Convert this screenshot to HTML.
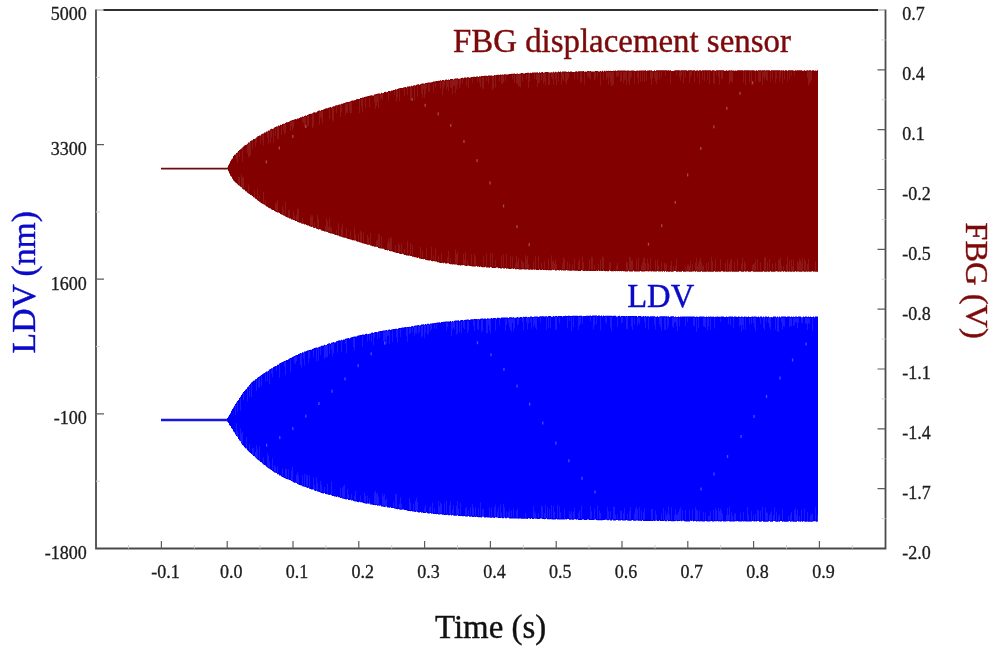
<!DOCTYPE html>
<html lang="en"><head><meta charset="utf-8"><title>FBG displacement sensor vs LDV</title>
<style>
html,body{margin:0;padding:0;background:#fff;}
body{width:1000px;height:647px;overflow:hidden;font-family:"Liberation Serif","Times New Roman",serif;}
svg{display:block;}
</style></head><body>
<svg width="1000" height="647" viewBox="0 0 1000 647">
<rect width="1000" height="647" fill="#fff"/>
<g id="fbg">
<path d="M161 168.7 H227.5" stroke="#6e0c0c" stroke-width="1.8" fill="none"/>
<path d="M227.0 167.5 L228.0 167.5 L228.0 165.3 L229.0 165.3 L229.0 163.4 L230.0 163.4 L230.0 161.2 L231.0 161.2 L231.0 159.5 L232.0 159.5 L232.0 158.4 L233.0 158.4 L233.0 156.1 L234.0 156.1 L234.0 154.8 L235.0 154.8 L235.0 154.5 L236.0 154.5 L236.0 152.9 L237.0 152.9 L237.0 152.6 L238.0 152.6 L238.0 151.0 L239.0 151.0 L239.0 150.1 L240.0 150.1 L240.0 149.2 L241.0 149.2 L241.0 148.5 L242.0 148.5 L242.0 147.6 L243.0 147.6 L243.0 146.4 L244.0 146.4 L244.0 145.6 L245.0 145.6 L245.0 144.9 L246.0 144.9 L246.0 144.7 L247.0 144.7 L247.0 143.7 L248.0 143.7 L248.0 142.6 L249.0 142.6 L249.0 142.5 L250.0 142.5 L250.0 141.1 L251.0 141.1 L251.0 140.4 L252.0 140.4 L252.0 140.2 L253.0 140.2 L253.0 139.0 L254.0 139.0 L254.0 139.0 L255.0 139.0 L255.0 138.4 L256.0 138.4 L256.0 137.5 L257.0 137.5 L257.0 136.6 L258.0 136.6 L258.0 136.0 L259.0 136.0 L259.0 135.4 L260.0 135.4 L260.0 135.4 L261.0 135.4 L261.0 134.2 L262.0 134.2 L262.0 133.7 L263.0 133.7 L263.0 133.4 L264.0 133.4 L264.0 132.6 L265.0 132.6 L265.0 132.6 L266.0 132.6 L266.0 131.5 L267.0 131.5 L267.0 131.5 L268.0 131.5 L268.0 130.4 L269.0 130.4 L269.0 130.4 L270.0 130.4 L270.0 129.3 L271.0 129.3 L271.0 128.8 L272.0 128.8 L272.0 128.9 L273.0 128.9 L273.0 128.5 L274.0 128.5 L274.0 127.4 L275.0 127.4 L275.0 126.9 L276.0 126.9 L276.0 126.5 L277.0 126.5 L277.0 126.6 L278.0 126.6 L278.0 125.6 L279.0 125.6 L279.0 125.7 L280.0 125.7 L280.0 124.7 L281.0 124.7 L281.0 124.9 L282.0 124.9 L282.0 123.9 L283.0 123.9 L283.0 123.8 L284.0 123.8 L284.0 123.7 L285.0 123.7 L285.0 123.0 L286.0 123.0 L286.0 122.3 L287.0 122.3 L287.0 122.2 L288.0 122.2 L288.0 122.1 L289.0 122.1 L289.0 121.4 L290.0 121.4 L290.0 120.8 L291.0 120.8 L291.0 120.4 L292.0 120.4 L292.0 120.1 L293.0 120.1 L293.0 119.7 L294.0 119.7 L294.0 119.4 L295.0 119.4 L295.0 119.0 L296.0 119.0 L296.0 119.3 L297.0 119.3 L297.0 118.4 L298.0 118.4 L298.0 118.6 L299.0 118.6 L299.0 118.0 L300.0 118.0 L300.0 117.3 L301.0 117.3 L301.0 117.3 L302.0 117.3 L302.0 116.6 L303.0 116.6 L303.0 116.8 L304.0 116.8 L304.0 115.9 L305.0 115.9 L305.0 115.5 L306.0 115.5 L306.0 115.8 L307.0 115.8 L307.0 115.1 L308.0 115.1 L308.0 114.4 L309.0 114.4 L309.0 114.1 L310.0 114.1 L310.0 113.7 L311.0 113.7 L311.0 113.7 L312.0 113.7 L312.0 113.3 L313.0 113.3 L313.0 112.6 L314.0 112.6 L314.0 112.3 L315.0 112.3 L315.0 112.5 L316.0 112.5 L316.0 112.2 L317.0 112.2 L317.0 111.2 L318.0 111.2 L318.0 110.8 L319.0 110.8 L319.0 110.5 L320.0 110.5 L320.0 110.7 L321.0 110.7 L321.0 110.1 L322.0 110.1 L322.0 110.1 L323.0 110.1 L323.0 109.5 L324.0 109.5 L324.0 108.9 L325.0 108.9 L325.0 108.6 L326.0 108.6 L326.0 108.3 L327.0 108.3 L327.0 108.3 L328.0 108.3 L328.0 107.7 L329.0 107.7 L329.0 107.4 L330.0 107.4 L330.0 107.1 L331.0 107.1 L331.0 107.4 L332.0 107.4 L332.0 106.8 L333.0 106.8 L333.0 106.2 L334.0 106.2 L334.0 106.2 L335.0 106.2 L335.0 105.6 L336.0 105.6 L336.0 105.3 L337.0 105.3 L337.0 105.3 L338.0 105.3 L338.0 104.7 L339.0 104.7 L339.0 104.4 L340.0 104.4 L340.0 104.6 L341.0 104.6 L341.0 103.8 L342.0 103.8 L342.0 103.8 L343.0 103.8 L343.0 103.2 L344.0 103.2 L344.0 102.9 L345.0 102.9 L345.0 102.5 L346.0 102.5 L346.0 102.2 L347.0 102.2 L347.0 102.0 L348.0 102.0 L348.0 102.0 L349.0 102.0 L349.0 101.7 L350.0 101.7 L350.0 101.3 L351.0 101.3 L351.0 100.8 L352.0 100.8 L352.0 100.5 L353.0 100.5 L353.0 100.5 L354.0 100.5 L354.0 100.2 L355.0 100.2 L355.0 100.1 L356.0 100.1 L356.0 99.2 L357.0 99.2 L357.0 99.0 L358.0 99.0 L358.0 99.0 L359.0 99.0 L359.0 99.0 L360.0 99.0 L360.0 98.1 L361.0 98.1 L361.0 98.1 L362.0 98.1 L362.0 97.6 L363.0 97.6 L363.0 97.6 L364.0 97.6 L364.0 97.1 L365.0 97.1 L365.0 96.8 L366.0 96.8 L366.0 96.6 L367.0 96.6 L367.0 96.3 L368.0 96.3 L368.0 96.1 L369.0 96.1 L369.0 95.8 L370.0 95.8 L370.0 95.6 L371.0 95.6 L371.0 95.3 L372.0 95.3 L372.0 95.4 L373.0 95.4 L373.0 95.4 L374.0 95.4 L374.0 94.6 L375.0 94.6 L375.0 94.3 L376.0 94.3 L376.0 94.1 L377.0 94.1 L377.0 93.8 L378.0 93.8 L378.0 93.6 L379.0 93.6 L379.0 93.6 L380.0 93.6 L380.0 93.7 L381.0 93.7 L381.0 92.8 L382.0 92.8 L382.0 93.2 L383.0 93.2 L383.0 92.9 L384.0 92.9 L384.0 92.1 L385.0 92.1 L385.0 91.8 L386.0 91.8 L386.0 92.2 L387.0 92.2 L387.0 91.9 L388.0 91.9 L388.0 91.1 L389.0 91.1 L389.0 91.1 L390.0 91.1 L390.0 91.2 L391.0 91.2 L391.0 90.6 L392.0 90.6 L392.0 90.4 L393.0 90.4 L393.0 90.1 L394.0 90.1 L394.0 89.9 L395.0 89.9 L395.0 89.3 L396.0 89.3 L396.0 89.4 L397.0 89.4 L397.0 89.1 L398.0 89.1 L398.0 88.6 L399.0 88.6 L399.0 88.3 L400.0 88.3 L400.0 88.1 L401.0 88.1 L401.0 87.9 L402.0 87.9 L402.0 88.0 L403.0 88.0 L403.0 87.5 L404.0 87.5 L404.0 87.3 L405.0 87.3 L405.0 87.0 L406.0 87.0 L406.0 87.4 L407.0 87.4 L407.0 86.6 L408.0 86.6 L408.0 86.4 L409.0 86.4 L409.0 86.2 L410.0 86.2 L410.0 86.6 L411.0 86.6 L411.0 85.8 L412.0 85.8 L412.0 86.2 L413.0 86.2 L413.0 85.4 L414.0 85.4 L414.0 85.2 L415.0 85.2 L415.0 85.5 L416.0 85.5 L416.0 84.7 L417.0 84.7 L417.0 84.5 L418.0 84.5 L418.0 84.3 L419.0 84.3 L419.0 84.7 L420.0 84.7 L420.0 84.2 L421.0 84.2 L421.0 83.7 L422.0 83.7 L422.0 83.5 L423.0 83.5 L423.0 83.4 L424.0 83.4 L424.0 83.8 L425.0 83.8 L425.0 83.0 L426.0 83.0 L426.0 83.1 L427.0 83.1 L427.0 82.7 L428.0 82.7 L428.0 82.5 L429.0 82.5 L429.0 82.6 L430.0 82.6 L430.0 82.4 L431.0 82.4 L431.0 82.2 L432.0 82.2 L432.0 82.0 L433.0 82.0 L433.0 81.6 L434.0 81.6 L434.0 81.4 L435.0 81.4 L435.0 81.2 L436.0 81.2 L436.0 81.0 L437.0 81.0 L437.0 80.9 L438.0 80.9 L438.0 80.7 L439.0 80.7 L439.0 80.8 L440.0 80.8 L440.0 80.3 L441.0 80.3 L441.0 80.8 L442.0 80.8 L442.0 80.1 L443.0 80.1 L443.0 80.0 L444.0 80.0 L444.0 80.5 L445.0 80.5 L445.0 79.7 L446.0 79.7 L446.0 79.6 L447.0 79.6 L447.0 80.1 L448.0 80.1 L448.0 79.4 L449.0 79.4 L449.0 79.9 L450.0 79.9 L450.0 79.1 L451.0 79.1 L451.0 79.0 L452.0 79.0 L452.0 78.9 L453.0 78.9 L453.0 79.4 L454.0 79.4 L454.0 78.7 L455.0 78.7 L455.0 78.5 L456.0 78.5 L456.0 78.4 L457.0 78.4 L457.0 78.3 L458.0 78.3 L458.0 78.8 L459.0 78.8 L459.0 78.7 L460.0 78.7 L460.0 78.6 L461.0 78.6 L461.0 77.9 L462.0 77.9 L462.0 77.8 L463.0 77.8 L463.0 78.3 L464.0 78.3 L464.0 77.6 L465.0 77.6 L465.0 77.5 L466.0 77.5 L466.0 77.7 L467.0 77.7 L467.0 77.3 L468.0 77.3 L468.0 77.2 L469.0 77.2 L469.0 77.7 L470.0 77.7 L470.0 77.4 L471.0 77.4 L471.0 77.0 L472.0 77.0 L472.0 76.9 L473.0 76.9 L473.0 76.8 L474.0 76.8 L474.0 76.7 L475.0 76.7 L475.0 76.9 L476.0 76.9 L476.0 76.5 L477.0 76.5 L477.0 76.4 L478.0 76.4 L478.0 76.9 L479.0 76.9 L479.0 76.2 L480.0 76.2 L480.0 76.5 L481.0 76.5 L481.0 76.1 L482.0 76.1 L482.0 76.0 L483.0 76.0 L483.0 75.9 L484.0 75.9 L484.0 75.8 L485.0 75.8 L485.0 75.8 L486.0 75.8 L486.0 75.7 L487.0 75.7 L487.0 75.9 L488.0 75.9 L488.0 75.5 L489.0 75.5 L489.0 75.4 L490.0 75.4 L490.0 75.4 L491.0 75.4 L491.0 75.6 L492.0 75.6 L492.0 75.8 L493.0 75.8 L493.0 75.7 L494.0 75.7 L494.0 75.0 L495.0 75.0 L495.0 75.3 L496.0 75.3 L496.0 74.9 L497.0 74.9 L497.0 74.8 L498.0 74.8 L498.0 74.7 L499.0 74.7 L499.0 74.9 L500.0 74.9 L500.0 74.6 L501.0 74.6 L501.0 74.8 L502.0 74.8 L502.0 74.4 L503.0 74.4 L503.0 74.7 L504.0 74.7 L504.0 74.3 L505.0 74.3 L505.0 74.2 L506.0 74.2 L506.0 74.4 L507.0 74.4 L507.0 74.4 L508.0 74.4 L508.0 74.3 L509.0 74.3 L509.0 73.9 L510.0 73.9 L510.0 73.9 L511.0 73.9 L511.0 73.8 L512.0 73.8 L512.0 73.7 L513.0 73.7 L513.0 73.7 L514.0 73.7 L514.0 73.6 L515.0 73.6 L515.0 74.1 L516.0 74.1 L516.0 73.7 L517.0 73.7 L517.0 73.4 L518.0 73.4 L518.0 73.9 L519.0 73.9 L519.0 73.8 L520.0 73.8 L520.0 73.5 L521.0 73.5 L521.0 73.1 L522.0 73.1 L522.0 73.1 L523.0 73.1 L523.0 73.6 L524.0 73.6 L524.0 73.6 L525.0 73.6 L525.0 72.9 L526.0 72.9 L526.0 72.9 L527.0 72.9 L527.0 72.8 L528.0 72.8 L528.0 72.8 L529.0 72.8 L529.0 73.3 L530.0 73.3 L530.0 72.7 L531.0 72.7 L531.0 72.9 L532.0 72.9 L532.0 72.6 L533.0 72.6 L533.0 72.5 L534.0 72.5 L534.0 72.5 L535.0 72.5 L535.0 72.4 L536.0 72.4 L536.0 72.4 L537.0 72.4 L537.0 72.3 L538.0 72.3 L538.0 72.9 L539.0 72.9 L539.0 72.2 L540.0 72.2 L540.0 72.8 L541.0 72.8 L541.0 72.2 L542.0 72.2 L542.0 72.1 L543.0 72.1 L543.0 72.7 L544.0 72.7 L544.0 72.4 L545.0 72.4 L545.0 72.0 L546.0 72.0 L546.0 72.0 L547.0 72.0 L547.0 72.0 L548.0 72.0 L548.0 72.2 L549.0 72.2 L549.0 72.5 L550.0 72.5 L550.0 72.5 L551.0 72.5 L551.0 72.2 L552.0 72.2 L552.0 72.4 L553.0 72.4 L553.0 71.8 L554.0 71.8 L554.0 72.4 L555.0 72.4 L555.0 71.7 L556.0 71.7 L556.0 72.3 L557.0 72.3 L557.0 72.3 L558.0 72.3 L558.0 71.6 L559.0 71.6 L559.0 71.9 L560.0 71.9 L560.0 71.6 L561.0 71.6 L561.0 72.2 L562.0 72.2 L562.0 71.5 L563.0 71.5 L563.0 71.5 L564.0 71.5 L564.0 71.5 L565.0 71.5 L565.0 71.5 L566.0 71.5 L566.0 71.8 L567.0 71.8 L567.0 72.0 L568.0 72.0 L568.0 71.4 L569.0 71.4 L569.0 72.0 L570.0 72.0 L570.0 71.4 L571.0 71.4 L571.0 71.4 L572.0 71.4 L572.0 71.9 L573.0 71.9 L573.0 71.9 L574.0 71.9 L574.0 71.9 L575.0 71.9 L575.0 71.6 L576.0 71.6 L576.0 71.3 L577.0 71.3 L577.0 71.8 L578.0 71.8 L578.0 71.2 L579.0 71.2 L579.0 71.2 L580.0 71.2 L580.0 71.2 L581.0 71.2 L581.0 71.2 L582.0 71.2 L582.0 71.2 L583.0 71.2 L583.0 71.1 L584.0 71.1 L584.0 71.7 L585.0 71.7 L585.0 71.4 L586.0 71.4 L586.0 71.7 L587.0 71.7 L587.0 71.0 L588.0 71.0 L588.0 71.0 L589.0 71.0 L589.0 71.3 L590.0 71.3 L590.0 71.0 L591.0 71.0 L591.0 71.6 L592.0 71.6 L592.0 71.5 L593.0 71.5 L593.0 71.5 L594.0 71.5 L594.0 71.5 L595.0 71.5 L595.0 70.9 L596.0 70.9 L596.0 70.9 L597.0 70.9 L597.0 71.1 L598.0 71.1 L598.0 71.4 L599.0 71.4 L599.0 71.4 L600.0 71.4 L600.0 71.1 L601.0 71.1 L601.0 71.4 L602.0 71.4 L602.0 70.8 L603.0 70.8 L603.0 71.4 L604.0 71.4 L604.0 70.8 L605.0 70.8 L605.0 71.3 L606.0 71.3 L606.0 70.7 L607.0 70.7 L607.0 71.0 L608.0 71.0 L608.0 70.7 L609.0 70.7 L609.0 71.0 L610.0 71.0 L610.0 70.7 L611.0 70.7 L611.0 71.0 L612.0 71.0 L612.0 71.0 L613.0 71.0 L613.0 70.7 L614.0 70.7 L614.0 70.7 L615.0 70.7 L615.0 70.6 L616.0 70.6 L616.0 70.9 L617.0 70.9 L617.0 70.6 L618.0 70.6 L618.0 70.6 L619.0 70.6 L619.0 70.6 L620.0 70.6 L620.0 70.6 L621.0 70.6 L621.0 70.6 L622.0 70.6 L622.0 70.6 L623.0 70.6 L623.0 70.6 L624.0 70.6 L624.0 70.6 L625.0 70.6 L625.0 70.5 L626.0 70.5 L626.0 70.8 L627.0 70.8 L627.0 70.5 L628.0 70.5 L628.0 70.5 L629.0 70.5 L629.0 70.8 L630.0 70.8 L630.0 70.8 L631.0 70.8 L631.0 70.5 L632.0 70.5 L632.0 70.5 L633.0 70.5 L633.0 70.5 L634.0 70.5 L634.0 70.8 L635.0 70.8 L635.0 71.0 L636.0 71.0 L636.0 70.7 L637.0 70.7 L637.0 70.4 L638.0 70.4 L638.0 70.7 L639.0 70.7 L639.0 70.4 L640.0 70.4 L640.0 70.4 L641.0 70.4 L641.0 70.4 L642.0 70.4 L642.0 70.4 L643.0 70.4 L643.0 70.4 L644.0 70.4 L644.0 70.4 L645.0 70.4 L645.0 70.3 L646.0 70.3 L646.0 70.9 L647.0 70.9 L647.0 70.6 L648.0 70.6 L648.0 70.6 L649.0 70.6 L649.0 70.3 L650.0 70.3 L650.0 70.6 L651.0 70.6 L651.0 70.3 L652.0 70.3 L652.0 70.9 L653.0 70.9 L653.0 70.9 L654.0 70.9 L654.0 70.3 L655.0 70.3 L655.0 70.9 L656.0 70.9 L656.0 70.3 L657.0 70.3 L657.0 70.3 L658.0 70.3 L658.0 70.3 L659.0 70.3 L659.0 70.3 L660.0 70.3 L660.0 70.3 L661.0 70.3 L661.0 70.3 L662.0 70.3 L662.0 70.3 L663.0 70.3 L663.0 70.3 L664.0 70.3 L664.0 70.3 L665.0 70.3 L665.0 70.3 L666.0 70.3 L666.0 70.3 L667.0 70.3 L667.0 70.6 L668.0 70.6 L668.0 70.3 L669.0 70.3 L669.0 70.6 L670.0 70.6 L670.0 70.3 L671.0 70.3 L671.0 70.9 L672.0 70.9 L672.0 70.9 L673.0 70.9 L673.0 70.9 L674.0 70.9 L674.0 70.6 L675.0 70.6 L675.0 70.2 L676.0 70.2 L676.0 70.2 L677.0 70.2 L677.0 70.2 L678.0 70.2 L678.0 70.2 L679.0 70.2 L679.0 70.2 L680.0 70.2 L680.0 70.5 L681.0 70.5 L681.0 70.2 L682.0 70.2 L682.0 70.2 L683.0 70.2 L683.0 70.2 L684.0 70.2 L684.0 70.2 L685.0 70.2 L685.0 70.2 L686.0 70.2 L686.0 70.2 L687.0 70.2 L687.0 70.8 L688.0 70.8 L688.0 70.2 L689.0 70.2 L689.0 70.2 L690.0 70.2 L690.0 70.2 L691.0 70.2 L691.0 70.2 L692.0 70.2 L692.0 70.5 L693.0 70.5 L693.0 70.2 L694.0 70.2 L694.0 70.2 L695.0 70.2 L695.0 70.8 L696.0 70.8 L696.0 70.5 L697.0 70.5 L697.0 70.2 L698.0 70.2 L698.0 70.8 L699.0 70.8 L699.0 70.2 L700.0 70.2 L700.0 70.2 L701.0 70.2 L701.0 70.8 L702.0 70.8 L702.0 70.2 L703.0 70.2 L703.0 70.2 L704.0 70.2 L704.0 70.2 L705.0 70.2 L705.0 70.2 L706.0 70.2 L706.0 70.2 L707.0 70.2 L707.0 70.2 L708.0 70.2 L708.0 70.2 L709.0 70.2 L709.0 70.2 L710.0 70.2 L710.0 70.2 L711.0 70.2 L711.0 70.8 L712.0 70.8 L712.0 70.2 L713.0 70.2 L713.0 70.2 L714.0 70.2 L714.0 70.5 L715.0 70.5 L715.0 70.8 L716.0 70.8 L716.0 70.2 L717.0 70.2 L717.0 70.2 L718.0 70.2 L718.0 70.2 L719.0 70.2 L719.0 70.2 L720.0 70.2 L720.0 70.2 L721.0 70.2 L721.0 70.2 L722.0 70.2 L722.0 70.2 L723.0 70.2 L723.0 70.2 L724.0 70.2 L724.0 70.8 L725.0 70.8 L725.0 70.8 L726.0 70.8 L726.0 70.2 L727.0 70.2 L727.0 70.8 L728.0 70.8 L728.0 70.5 L729.0 70.5 L729.0 70.2 L730.0 70.2 L730.0 70.5 L731.0 70.5 L731.0 70.2 L732.0 70.2 L732.0 70.5 L733.0 70.5 L733.0 70.5 L734.0 70.5 L734.0 70.8 L735.0 70.8 L735.0 70.5 L736.0 70.5 L736.0 70.8 L737.0 70.8 L737.0 70.2 L738.0 70.2 L738.0 70.2 L739.0 70.2 L739.0 70.2 L740.0 70.2 L740.0 70.2 L741.0 70.2 L741.0 70.2 L742.0 70.2 L742.0 70.2 L743.0 70.2 L743.0 70.5 L744.0 70.5 L744.0 70.2 L745.0 70.2 L745.0 70.2 L746.0 70.2 L746.0 70.2 L747.0 70.2 L747.0 70.2 L748.0 70.2 L748.0 70.2 L749.0 70.2 L749.0 70.2 L750.0 70.2 L750.0 70.5 L751.0 70.5 L751.0 70.2 L752.0 70.2 L752.0 70.2 L753.0 70.2 L753.0 70.2 L754.0 70.2 L754.0 70.5 L755.0 70.5 L755.0 70.8 L756.0 70.8 L756.0 70.2 L757.0 70.2 L757.0 70.8 L758.0 70.8 L758.0 70.2 L759.0 70.2 L759.0 70.2 L760.0 70.2 L760.0 70.2 L761.0 70.2 L761.0 70.5 L762.0 70.5 L762.0 70.2 L763.0 70.2 L763.0 70.2 L764.0 70.2 L764.0 70.2 L765.0 70.2 L765.0 70.5 L766.0 70.5 L766.0 70.2 L767.0 70.2 L767.0 70.2 L768.0 70.2 L768.0 70.2 L769.0 70.2 L769.0 70.2 L770.0 70.2 L770.0 70.8 L771.0 70.8 L771.0 70.2 L772.0 70.2 L772.0 70.2 L773.0 70.2 L773.0 70.2 L774.0 70.2 L774.0 70.2 L775.0 70.2 L775.0 70.2 L776.0 70.2 L776.0 70.2 L777.0 70.2 L777.0 70.2 L778.0 70.2 L778.0 70.2 L779.0 70.2 L779.0 70.2 L780.0 70.2 L780.0 70.5 L781.0 70.5 L781.0 70.2 L782.0 70.2 L782.0 70.5 L783.0 70.5 L783.0 70.2 L784.0 70.2 L784.0 70.8 L785.0 70.8 L785.0 70.2 L786.0 70.2 L786.0 70.2 L787.0 70.2 L787.0 70.8 L788.0 70.8 L788.0 70.2 L789.0 70.2 L789.0 70.2 L790.0 70.2 L790.0 70.2 L791.0 70.2 L791.0 70.2 L792.0 70.2 L792.0 70.2 L793.0 70.2 L793.0 70.5 L794.0 70.5 L794.0 70.8 L795.0 70.8 L795.0 70.2 L796.0 70.2 L796.0 70.5 L797.0 70.5 L797.0 70.2 L798.0 70.2 L798.0 70.2 L799.0 70.2 L799.0 70.2 L800.0 70.2 L800.0 70.2 L801.0 70.2 L801.0 70.2 L802.0 70.2 L802.0 70.8 L803.0 70.8 L803.0 70.8 L804.0 70.8 L804.0 70.2 L805.0 70.2 L805.0 70.8 L806.0 70.8 L806.0 70.5 L807.0 70.5 L807.0 70.2 L808.0 70.2 L808.0 70.5 L809.0 70.5 L809.0 70.2 L810.0 70.2 L810.0 70.2 L811.0 70.2 L811.0 70.8 L812.0 70.8 L812.0 70.2 L813.0 70.2 L813.0 70.2 L814.0 70.2 L814.0 70.8 L815.0 70.8 L815.0 70.5 L816.0 70.5 L816.0 70.8 L817.0 70.8 L817.0 70.2 L818.0 70.2 L818.0 271.8 L817.0 271.8 L817.0 271.8 L816.0 271.8 L816.0 271.8 L815.0 271.8 L815.0 271.5 L814.0 271.5 L814.0 271.8 L813.0 271.8 L813.0 271.2 L812.0 271.2 L812.0 271.5 L811.0 271.5 L811.0 271.8 L810.0 271.8 L810.0 271.8 L809.0 271.8 L809.0 271.5 L808.0 271.5 L808.0 271.8 L807.0 271.8 L807.0 271.5 L806.0 271.5 L806.0 271.8 L805.0 271.8 L805.0 271.8 L804.0 271.8 L804.0 271.5 L803.0 271.5 L803.0 271.5 L802.0 271.5 L802.0 271.8 L801.0 271.8 L801.0 271.8 L800.0 271.8 L800.0 271.8 L799.0 271.8 L799.0 271.5 L798.0 271.5 L798.0 271.5 L797.0 271.5 L797.0 271.8 L796.0 271.8 L796.0 271.2 L795.0 271.2 L795.0 271.8 L794.0 271.8 L794.0 271.8 L793.0 271.8 L793.0 271.5 L792.0 271.5 L792.0 271.8 L791.0 271.8 L791.0 271.8 L790.0 271.8 L790.0 271.5 L789.0 271.5 L789.0 271.8 L788.0 271.8 L788.0 271.5 L787.0 271.5 L787.0 271.8 L786.0 271.8 L786.0 271.8 L785.0 271.8 L785.0 271.2 L784.0 271.2 L784.0 271.8 L783.0 271.8 L783.0 271.2 L782.0 271.2 L782.0 271.5 L781.0 271.5 L781.0 271.8 L780.0 271.8 L780.0 271.5 L779.0 271.5 L779.0 271.8 L778.0 271.8 L778.0 271.5 L777.0 271.5 L777.0 271.2 L776.0 271.2 L776.0 271.5 L775.0 271.5 L775.0 271.8 L774.0 271.8 L774.0 271.8 L773.0 271.8 L773.0 271.8 L772.0 271.8 L772.0 271.8 L771.0 271.8 L771.0 271.2 L770.0 271.2 L770.0 271.8 L769.0 271.8 L769.0 271.8 L768.0 271.8 L768.0 271.5 L767.0 271.5 L767.0 271.8 L766.0 271.8 L766.0 271.8 L765.0 271.8 L765.0 271.8 L764.0 271.8 L764.0 271.2 L763.0 271.2 L763.0 271.8 L762.0 271.8 L762.0 271.8 L761.0 271.8 L761.0 271.8 L760.0 271.8 L760.0 271.8 L759.0 271.8 L759.0 271.8 L758.0 271.8 L758.0 271.8 L757.0 271.8 L757.0 271.8 L756.0 271.8 L756.0 271.8 L755.0 271.8 L755.0 271.8 L754.0 271.8 L754.0 271.8 L753.0 271.8 L753.0 271.2 L752.0 271.2 L752.0 271.2 L751.0 271.2 L751.0 271.8 L750.0 271.8 L750.0 271.8 L749.0 271.8 L749.0 271.8 L748.0 271.8 L748.0 271.2 L747.0 271.2 L747.0 271.5 L746.0 271.5 L746.0 271.8 L745.0 271.8 L745.0 271.2 L744.0 271.2 L744.0 271.8 L743.0 271.8 L743.0 271.8 L742.0 271.8 L742.0 271.8 L741.0 271.8 L741.0 271.2 L740.0 271.2 L740.0 271.2 L739.0 271.2 L739.0 271.8 L738.0 271.8 L738.0 271.8 L737.0 271.8 L737.0 271.8 L736.0 271.8 L736.0 271.8 L735.0 271.8 L735.0 271.8 L734.0 271.8 L734.0 271.8 L733.0 271.8 L733.0 271.8 L732.0 271.8 L732.0 271.5 L731.0 271.5 L731.0 271.8 L730.0 271.8 L730.0 271.5 L729.0 271.5 L729.0 271.8 L728.0 271.8 L728.0 271.8 L727.0 271.8 L727.0 271.8 L726.0 271.8 L726.0 271.5 L725.0 271.5 L725.0 271.8 L724.0 271.8 L724.0 271.8 L723.0 271.8 L723.0 271.2 L722.0 271.2 L722.0 271.2 L721.0 271.2 L721.0 271.8 L720.0 271.8 L720.0 271.8 L719.0 271.8 L719.0 271.5 L718.0 271.5 L718.0 271.8 L717.0 271.8 L717.0 271.8 L716.0 271.8 L716.0 271.8 L715.0 271.8 L715.0 271.2 L714.0 271.2 L714.0 271.8 L713.0 271.8 L713.0 271.8 L712.0 271.8 L712.0 271.8 L711.0 271.8 L711.0 271.8 L710.0 271.8 L710.0 271.8 L709.0 271.8 L709.0 271.8 L708.0 271.8 L708.0 271.5 L707.0 271.5 L707.0 271.8 L706.0 271.8 L706.0 271.8 L705.0 271.8 L705.0 271.8 L704.0 271.8 L704.0 271.8 L703.0 271.8 L703.0 271.8 L702.0 271.8 L702.0 271.2 L701.0 271.2 L701.0 271.8 L700.0 271.8 L700.0 271.8 L699.0 271.8 L699.0 271.8 L698.0 271.8 L698.0 271.8 L697.0 271.8 L697.0 271.2 L696.0 271.2 L696.0 271.8 L695.0 271.8 L695.0 271.2 L694.0 271.2 L694.0 271.5 L693.0 271.5 L693.0 271.5 L692.0 271.5 L692.0 271.8 L691.0 271.8 L691.0 271.8 L690.0 271.8 L690.0 271.8 L689.0 271.8 L689.0 271.5 L688.0 271.5 L688.0 271.4 L687.0 271.4 L687.0 271.4 L686.0 271.4 L686.0 271.7 L685.0 271.7 L685.0 271.7 L684.0 271.7 L684.0 271.7 L683.0 271.7 L683.0 271.1 L682.0 271.1 L682.0 271.7 L681.0 271.7 L681.0 271.7 L680.0 271.7 L680.0 271.7 L679.0 271.7 L679.0 271.4 L678.0 271.4 L678.0 271.7 L677.0 271.7 L677.0 271.7 L676.0 271.7 L676.0 271.1 L675.0 271.1 L675.0 271.1 L674.0 271.1 L674.0 271.4 L673.0 271.4 L673.0 271.7 L672.0 271.7 L672.0 271.7 L671.0 271.7 L671.0 271.4 L670.0 271.4 L670.0 271.7 L669.0 271.7 L669.0 271.7 L668.0 271.7 L668.0 271.4 L667.0 271.4 L667.0 271.7 L666.0 271.7 L666.0 271.1 L665.0 271.1 L665.0 271.7 L664.0 271.7 L664.0 271.1 L663.0 271.1 L663.0 271.7 L662.0 271.7 L662.0 271.3 L661.0 271.3 L661.0 271.6 L660.0 271.6 L660.0 271.6 L659.0 271.6 L659.0 271.6 L658.0 271.6 L658.0 271.0 L657.0 271.0 L657.0 271.6 L656.0 271.6 L656.0 271.6 L655.0 271.6 L655.0 271.6 L654.0 271.6 L654.0 271.6 L653.0 271.6 L653.0 271.3 L652.0 271.3 L652.0 271.6 L651.0 271.6 L651.0 271.3 L650.0 271.3 L650.0 271.3 L649.0 271.3 L649.0 271.6 L648.0 271.6 L648.0 271.3 L647.0 271.3 L647.0 271.3 L646.0 271.3 L646.0 271.3 L645.0 271.3 L645.0 271.5 L644.0 271.5 L644.0 271.5 L643.0 271.5 L643.0 271.5 L642.0 271.5 L642.0 271.5 L641.0 271.5 L641.0 270.9 L640.0 270.9 L640.0 271.5 L639.0 271.5 L639.0 271.5 L638.0 271.5 L638.0 271.5 L637.0 271.5 L637.0 271.5 L636.0 271.5 L636.0 271.5 L635.0 271.5 L635.0 271.4 L634.0 271.4 L634.0 270.8 L633.0 270.8 L633.0 271.4 L632.0 271.4 L632.0 271.4 L631.0 271.4 L631.0 271.4 L630.0 271.4 L630.0 271.4 L629.0 271.4 L629.0 270.8 L628.0 270.8 L628.0 271.4 L627.0 271.4 L627.0 271.4 L626.0 271.4 L626.0 271.4 L625.0 271.4 L625.0 271.3 L624.0 271.3 L624.0 271.3 L623.0 271.3 L623.0 271.0 L622.0 271.0 L622.0 271.3 L621.0 271.3 L621.0 271.0 L620.0 271.0 L620.0 271.3 L619.0 271.3 L619.0 271.0 L618.0 271.0 L618.0 271.3 L617.0 271.3 L617.0 271.0 L616.0 271.0 L616.0 271.3 L615.0 271.3 L615.0 270.9 L614.0 270.9 L614.0 271.2 L613.0 271.2 L613.0 271.2 L612.0 271.2 L612.0 271.2 L611.0 271.2 L611.0 270.9 L610.0 270.9 L610.0 270.6 L609.0 270.6 L609.0 271.2 L608.0 271.2 L608.0 271.2 L607.0 271.2 L607.0 270.9 L606.0 270.9 L606.0 271.2 L605.0 271.2 L605.0 271.1 L604.0 271.1 L604.0 270.8 L603.0 270.8 L603.0 271.1 L602.0 271.1 L602.0 271.1 L601.0 271.1 L601.0 270.8 L600.0 270.8 L600.0 271.1 L599.0 271.1 L599.0 270.5 L598.0 270.5 L598.0 271.1 L597.0 271.1 L597.0 270.8 L596.0 270.8 L596.0 271.1 L595.0 271.1 L595.0 271.0 L594.0 271.0 L594.0 271.0 L593.0 271.0 L593.0 271.0 L592.0 271.0 L592.0 271.0 L591.0 271.0 L591.0 271.0 L590.0 271.0 L590.0 271.0 L589.0 271.0 L589.0 270.7 L588.0 270.7 L588.0 271.0 L587.0 271.0 L587.0 271.0 L586.0 271.0 L586.0 270.7 L585.0 270.7 L585.0 270.9 L584.0 270.9 L584.0 270.9 L583.0 270.9 L583.0 270.6 L582.0 270.6 L582.0 270.3 L581.0 270.3 L581.0 270.9 L580.0 270.9 L580.0 270.9 L579.0 270.9 L579.0 270.9 L578.0 270.9 L578.0 270.8 L577.0 270.8 L577.0 270.8 L576.0 270.8 L576.0 270.8 L575.0 270.8 L575.0 270.8 L574.0 270.8 L574.0 270.5 L573.0 270.5 L573.0 270.4 L572.0 270.4 L572.0 270.7 L571.0 270.7 L571.0 270.7 L570.0 270.7 L570.0 270.7 L569.0 270.7 L569.0 270.4 L568.0 270.4 L568.0 270.6 L567.0 270.6 L567.0 270.0 L566.0 270.0 L566.0 270.6 L565.0 270.6 L565.0 270.6 L564.0 270.6 L564.0 270.6 L563.0 270.6 L563.0 270.2 L562.0 270.2 L562.0 270.5 L561.0 270.5 L561.0 269.9 L560.0 269.9 L560.0 270.5 L559.0 270.5 L559.0 270.2 L558.0 270.2 L558.0 270.1 L557.0 270.1 L557.0 270.4 L556.0 270.4 L556.0 270.4 L555.0 270.4 L555.0 269.8 L554.0 269.8 L554.0 270.0 L553.0 270.0 L553.0 269.7 L552.0 269.7 L552.0 270.3 L551.0 270.3 L551.0 270.3 L550.0 270.3 L550.0 270.2 L549.0 270.2 L549.0 270.2 L548.0 270.2 L548.0 269.9 L547.0 269.9 L547.0 270.2 L546.0 270.2 L546.0 270.1 L545.0 270.1 L545.0 270.1 L544.0 270.1 L544.0 270.1 L543.0 270.1 L543.0 269.8 L542.0 269.8 L542.0 270.0 L541.0 270.0 L541.0 270.0 L540.0 270.0 L540.0 269.4 L539.0 269.4 L539.0 270.0 L538.0 270.0 L538.0 269.9 L537.0 269.9 L537.0 269.9 L536.0 269.9 L536.0 269.6 L535.0 269.6 L535.0 269.8 L534.0 269.8 L534.0 269.5 L533.0 269.5 L533.0 269.8 L532.0 269.8 L532.0 269.7 L531.0 269.7 L531.0 269.4 L530.0 269.4 L530.0 269.7 L529.0 269.7 L529.0 269.7 L528.0 269.7 L528.0 269.3 L527.0 269.3 L527.0 269.6 L526.0 269.6 L526.0 269.6 L525.0 269.6 L525.0 269.5 L524.0 269.5 L524.0 269.2 L523.0 269.2 L523.0 269.2 L522.0 269.2 L522.0 269.4 L521.0 269.4 L521.0 269.4 L520.0 269.4 L520.0 269.4 L519.0 269.4 L519.0 269.3 L518.0 269.3 L518.0 269.0 L517.0 269.0 L517.0 269.2 L516.0 269.2 L516.0 269.2 L515.0 269.2 L515.0 268.5 L514.0 268.5 L514.0 269.1 L513.0 269.1 L513.0 268.4 L512.0 268.4 L512.0 268.7 L511.0 268.7 L511.0 268.9 L510.0 268.9 L510.0 268.9 L509.0 268.9 L509.0 268.8 L508.0 268.8 L508.0 268.5 L507.0 268.5 L507.0 268.7 L506.0 268.7 L506.0 268.1 L505.0 268.1 L505.0 268.6 L504.0 268.6 L504.0 268.6 L503.0 268.6 L503.0 267.9 L502.0 267.9 L502.0 268.5 L501.0 268.5 L501.0 268.4 L500.0 268.4 L500.0 268.1 L499.0 268.1 L499.0 268.3 L498.0 268.3 L498.0 267.6 L497.0 267.6 L497.0 267.6 L496.0 267.6 L496.0 268.1 L495.0 268.1 L495.0 268.0 L494.0 268.0 L494.0 267.9 L493.0 267.9 L493.0 267.9 L492.0 267.9 L492.0 267.5 L491.0 267.5 L491.0 267.1 L490.0 267.1 L490.0 267.7 L489.0 267.7 L489.0 267.6 L488.0 267.6 L488.0 267.5 L487.0 267.5 L487.0 267.5 L486.0 267.5 L486.0 266.8 L485.0 266.8 L485.0 267.3 L484.0 267.3 L484.0 267.2 L483.0 267.2 L483.0 267.2 L482.0 267.2 L482.0 267.1 L481.0 267.1 L481.0 266.4 L480.0 266.4 L480.0 267.0 L479.0 267.0 L479.0 266.6 L478.0 266.6 L478.0 266.8 L477.0 266.8 L477.0 266.1 L476.0 266.1 L476.0 266.6 L475.0 266.6 L475.0 266.6 L474.0 266.6 L474.0 266.5 L473.0 266.5 L473.0 266.4 L472.0 266.4 L472.0 266.3 L471.0 266.3 L471.0 265.9 L470.0 265.9 L470.0 265.9 L469.0 265.9 L469.0 265.5 L468.0 265.5 L468.0 265.7 L467.0 265.7 L467.0 265.9 L466.0 265.9 L466.0 265.8 L465.0 265.8 L465.0 265.5 L464.0 265.5 L464.0 265.1 L463.0 265.1 L463.0 265.3 L462.0 265.3 L462.0 265.2 L461.0 265.2 L461.0 265.4 L460.0 265.4 L460.0 265.3 L459.0 265.3 L459.0 265.2 L458.0 265.2 L458.0 265.1 L457.0 265.1 L457.0 264.6 L456.0 264.6 L456.0 264.5 L455.0 264.5 L455.0 264.4 L454.0 264.4 L454.0 264.3 L453.0 264.3 L453.0 264.4 L452.0 264.4 L452.0 264.3 L451.0 264.3 L451.0 264.2 L450.0 264.2 L450.0 264.0 L449.0 264.0 L449.0 263.3 L448.0 263.3 L448.0 263.2 L447.0 263.2 L447.0 263.6 L446.0 263.6 L446.0 263.5 L445.0 263.5 L445.0 262.8 L444.0 262.8 L444.0 263.3 L443.0 263.3 L443.0 262.8 L442.0 262.8 L442.0 263.0 L441.0 263.0 L441.0 262.9 L440.0 262.9 L440.0 262.7 L439.0 262.7 L439.0 262.2 L438.0 262.2 L438.0 262.3 L437.0 262.3 L437.0 261.5 L436.0 261.5 L436.0 261.6 L435.0 261.6 L435.0 261.3 L434.0 261.3 L434.0 261.1 L433.0 261.1 L433.0 261.2 L432.0 261.2 L432.0 261.0 L431.0 261.0 L431.0 260.2 L430.0 260.2 L430.0 260.6 L429.0 260.6 L429.0 260.4 L428.0 260.4 L428.0 260.2 L427.0 260.2 L427.0 260.0 L426.0 260.0 L426.0 259.8 L425.0 259.8 L425.0 258.9 L424.0 258.9 L424.0 259.3 L423.0 259.3 L423.0 259.1 L422.0 259.1 L422.0 258.9 L421.0 258.9 L421.0 258.7 L420.0 258.7 L420.0 258.5 L419.0 258.5 L419.0 257.6 L418.0 257.6 L418.0 258.0 L417.0 258.0 L417.0 257.5 L416.0 257.5 L416.0 257.2 L415.0 257.2 L415.0 257.3 L414.0 257.3 L414.0 256.7 L413.0 256.7 L413.0 256.8 L412.0 256.8 L412.0 256.0 L411.0 256.0 L411.0 256.0 L410.0 256.0 L410.0 255.5 L409.0 255.5 L409.0 255.8 L408.0 255.8 L408.0 255.6 L407.0 255.6 L407.0 255.4 L406.0 255.4 L406.0 255.1 L405.0 255.1 L405.0 254.9 L404.0 254.9 L404.0 254.3 L403.0 254.3 L403.0 253.8 L402.0 253.8 L402.0 253.9 L401.0 253.9 L401.0 253.9 L400.0 253.9 L400.0 253.7 L399.0 253.7 L399.0 253.1 L398.0 253.1 L398.0 253.1 L397.0 253.1 L397.0 252.9 L396.0 252.9 L396.0 252.6 L395.0 252.6 L395.0 252.3 L394.0 252.3 L394.0 252.0 L393.0 252.0 L393.0 251.5 L392.0 251.5 L392.0 251.2 L391.0 251.2 L391.0 251.2 L390.0 251.2 L390.0 251.0 L389.0 251.0 L389.0 250.1 L388.0 250.1 L388.0 250.4 L387.0 250.4 L387.0 249.9 L386.0 249.9 L386.0 249.9 L385.0 249.9 L385.0 249.6 L384.0 249.6 L384.0 248.7 L383.0 248.7 L383.0 248.8 L382.0 248.8 L382.0 248.5 L381.0 248.5 L381.0 248.5 L380.0 248.5 L380.0 248.2 L379.0 248.2 L379.0 248.0 L378.0 248.0 L378.0 247.1 L377.0 247.1 L377.0 246.8 L376.0 246.8 L376.0 246.8 L375.0 246.8 L375.0 246.8 L374.0 246.8 L374.0 246.2 L373.0 246.2 L373.0 246.2 L372.0 246.2 L372.0 245.8 L371.0 245.8 L371.0 245.6 L370.0 245.6 L370.0 244.7 L369.0 244.7 L369.0 244.7 L368.0 244.7 L368.0 244.7 L367.0 244.7 L367.0 244.3 L366.0 244.3 L366.0 244.1 L365.0 244.1 L365.0 243.8 L364.0 243.8 L364.0 243.5 L363.0 243.5 L363.0 243.2 L362.0 243.2 L362.0 242.8 L361.0 242.8 L361.0 242.6 L360.0 242.6 L360.0 242.2 L359.0 242.2 L359.0 241.7 L358.0 241.7 L358.0 241.7 L357.0 241.7 L357.0 241.3 L356.0 241.3 L356.0 240.5 L355.0 240.5 L355.0 240.4 L354.0 240.4 L354.0 240.2 L353.0 240.2 L353.0 240.2 L352.0 240.2 L352.0 239.8 L351.0 239.8 L351.0 239.6 L350.0 239.6 L350.0 239.2 L349.0 239.2 L349.0 239.0 L348.0 239.0 L348.0 238.7 L347.0 238.7 L347.0 238.3 L346.0 238.3 L346.0 237.8 L345.0 237.8 L345.0 237.8 L344.0 237.8 L344.0 237.5 L343.0 237.5 L343.0 237.2 L342.0 237.2 L342.0 236.8 L341.0 236.8 L341.0 236.6 L340.0 236.6 L340.0 236.2 L339.0 236.2 L339.0 235.6 L338.0 235.6 L338.0 235.6 L337.0 235.6 L337.0 235.0 L336.0 235.0 L336.0 235.0 L335.0 235.0 L335.0 234.6 L334.0 234.6 L334.0 234.0 L333.0 234.0 L333.0 233.7 L332.0 233.7 L332.0 233.4 L331.0 233.4 L331.0 233.4 L330.0 233.4 L330.0 233.0 L329.0 233.0 L329.0 232.7 L328.0 232.7 L328.0 232.1 L327.0 232.1 L327.0 231.8 L326.0 231.8 L326.0 231.5 L325.0 231.5 L325.0 231.4 L324.0 231.4 L324.0 231.1 L323.0 231.1 L323.0 230.8 L322.0 230.8 L322.0 230.5 L321.0 230.5 L321.0 229.6 L320.0 229.6 L320.0 229.2 L319.0 229.2 L319.0 229.5 L318.0 229.5 L318.0 229.1 L317.0 229.1 L317.0 228.8 L316.0 228.8 L316.0 227.8 L315.0 227.8 L315.0 228.0 L314.0 228.0 L314.0 227.7 L313.0 227.7 L313.0 226.7 L312.0 226.7 L312.0 227.0 L311.0 227.0 L311.0 226.6 L310.0 226.6 L310.0 226.3 L309.0 226.3 L309.0 225.6 L308.0 225.6 L308.0 225.6 L307.0 225.6 L307.0 224.9 L306.0 224.9 L306.0 224.3 L305.0 224.3 L305.0 224.5 L304.0 224.5 L304.0 223.8 L303.0 223.8 L303.0 223.8 L302.0 223.8 L302.0 223.4 L301.0 223.4 L301.0 222.8 L300.0 222.8 L300.0 222.7 L299.0 222.7 L299.0 222.3 L298.0 222.3 L298.0 221.9 L297.0 221.9 L297.0 220.9 L296.0 220.9 L296.0 221.1 L295.0 221.1 L295.0 220.3 L294.0 220.3 L294.0 219.9 L293.0 219.9 L293.0 219.5 L292.0 219.5 L292.0 219.4 L291.0 219.4 L291.0 218.4 L290.0 218.4 L290.0 218.6 L289.0 218.6 L289.0 217.8 L288.0 217.8 L288.0 217.6 L287.0 217.6 L287.0 217.1 L286.0 217.1 L286.0 216.6 L285.0 216.6 L285.0 215.8 L284.0 215.8 L284.0 215.6 L283.0 215.6 L283.0 214.8 L282.0 214.8 L282.0 214.6 L281.0 214.6 L281.0 214.1 L280.0 214.1 L280.0 213.0 L279.0 213.0 L279.0 212.5 L278.0 212.5 L278.0 212.6 L277.0 212.6 L277.0 212.1 L276.0 212.1 L276.0 211.6 L275.0 211.6 L275.0 211.1 L274.0 211.1 L274.0 210.0 L273.0 210.0 L273.0 210.1 L272.0 210.1 L272.0 209.6 L271.0 209.6 L271.0 208.4 L270.0 208.4 L270.0 208.3 L269.0 208.3 L269.0 207.7 L268.0 207.7 L268.0 206.7 L267.0 206.7 L267.0 206.4 L266.0 206.4 L266.0 205.5 L265.0 205.5 L265.0 204.8 L264.0 204.8 L264.0 204.2 L263.0 204.2 L263.0 203.8 L262.0 203.8 L262.0 203.2 L261.0 203.2 L261.0 202.4 L260.0 202.4 L260.0 201.7 L259.0 201.7 L259.0 201.0 L258.0 201.0 L258.0 200.2 L257.0 200.2 L257.0 199.2 L256.0 199.2 L256.0 198.8 L255.0 198.8 L255.0 197.4 L254.0 197.4 L254.0 197.3 L253.0 197.3 L253.0 196.0 L252.0 196.0 L252.0 195.2 L251.0 195.2 L251.0 195.0 L250.0 195.0 L250.0 194.0 L249.0 194.0 L249.0 193.5 L248.0 193.5 L248.0 192.7 L247.0 192.7 L247.0 191.6 L246.0 191.6 L246.0 191.2 L245.0 191.2 L245.0 189.8 L244.0 189.8 L244.0 189.6 L243.0 189.6 L243.0 188.8 L242.0 188.8 L242.0 187.3 L241.0 187.3 L241.0 186.7 L240.0 186.7 L240.0 185.8 L239.0 185.8 L239.0 185.2 L238.0 185.2 L238.0 184.3 L237.0 184.3 L237.0 183.3 L236.0 183.3 L236.0 182.4 L235.0 182.4 L235.0 181.5 L234.0 181.5 L234.0 180.4 L233.0 180.4 L233.0 178.8 L232.0 178.8 L232.0 176.7 L231.0 176.7 L231.0 175.8 L230.0 175.8 L230.0 173.4 L229.0 173.4 L229.0 171.3 L228.0 171.3 L228.0 169.3 L227.0 169.3Z" fill="#820000"/><path d="M236.5 154.1 v5.4M237.5 153.2 v9.7M238.5 184.0 v-7.5M239.5 151.3 v5.7M239.5 184.9 v-7.8M241.5 186.7 v-12.4M242.5 148.5 v13.1M242.5 187.6 v-10.1M243.5 188.4 v-11.1M247.5 144.6 v8.7M248.5 143.8 v13.4M248.5 192.3 v-7.6M249.5 143.1 v13.7M250.5 142.3 v12.8M252.5 140.8 v7.9M254.5 196.8 v-6.5M255.5 139.0 v7.7M256.5 138.4 v4.0M257.5 199.0 v-10.2M259.5 200.5 v-4.7M260.5 136.0 v7.7M262.5 134.9 v5.3M263.5 134.3 v11.2M263.5 203.3 v-11.5M265.5 204.6 v-4.7M267.5 132.1 v5.3M268.5 131.6 v12.1M270.5 130.5 v12.3M271.5 130.0 v7.2M273.5 129.1 v13.6M275.5 128.1 v7.7M275.5 210.4 v-8.0M276.5 210.9 v-7.3M277.5 127.2 v11.9M277.5 211.4 v-11.7M278.5 126.8 v12.6M281.5 125.5 v9.4M282.5 213.9 v-7.8M283.5 124.7 v5.5M283.5 214.4 v-4.8M284.5 124.3 v10.2M285.5 123.9 v9.2M285.5 215.4 v-13.7M288.5 216.9 v-6.9M289.5 217.4 v-7.6M290.5 122.0 v8.9M291.5 121.6 v4.5M292.5 121.3 v9.2M293.5 120.9 v7.0M293.5 219.0 v-7.7M294.5 219.4 v-4.1M296.5 220.3 v-5.4M297.5 220.7 v-12.1M298.5 221.1 v-12.2M302.5 117.8 v4.0M302.5 222.6 v-4.3M303.5 117.4 v5.6M304.5 117.1 v10.1M305.5 116.7 v8.1M307.5 116.0 v10.1M308.5 115.6 v10.3M310.5 225.4 v-8.4M311.5 225.8 v-10.6M312.5 114.2 v14.0M312.5 226.1 v-10.4M313.5 113.8 v12.9M314.5 226.8 v-4.5M317.5 227.9 v-13.3M318.5 228.3 v-9.1M319.5 111.7 v13.0M320.5 111.3 v5.6M321.5 111.0 v7.9M322.5 110.7 v12.5M325.5 230.6 v-4.3M326.5 230.9 v-12.8M327.5 231.2 v-9.9M328.5 231.5 v-4.3M329.5 108.6 v10.2M329.5 231.8 v-13.8M330.5 232.2 v-5.4M331.5 232.5 v-4.7M332.5 107.7 v12.6M333.5 107.4 v13.5M336.5 106.5 v6.5M336.5 234.1 v-4.3M338.5 234.7 v-11.5M340.5 105.2 v11.9M341.5 105.0 v7.4M341.5 235.7 v-7.5M342.5 236.0 v-11.6M345.5 103.8 v11.5M346.5 103.5 v9.2M346.5 237.2 v-8.7M347.5 103.2 v9.7M349.5 102.6 v8.4M350.5 102.2 v11.5M350.5 238.4 v-7.5M351.5 102.0 v11.0M354.5 239.6 v-12.2M355.5 239.9 v-5.7M358.5 240.8 v-7.3M359.5 99.6 v13.3M360.5 241.4 v-10.5M361.5 99.0 v7.0M361.5 241.7 v-9.4M362.5 98.8 v13.8M363.5 242.3 v-9.9M365.5 98.0 v9.8M367.5 243.5 v-8.6M368.5 243.8 v-6.3M369.5 97.0 v10.4M370.5 244.4 v-11.5M374.5 95.8 v6.4M375.5 95.5 v13.5M376.5 95.3 v10.6M376.5 246.2 v-5.5M377.5 95.0 v7.0M377.5 246.5 v-6.7M378.5 94.8 v13.1M378.5 246.8 v-12.9M379.5 247.1 v-12.5M380.5 94.3 v6.2M381.5 94.0 v4.2M381.5 247.6 v-11.4M382.5 93.8 v6.4M387.5 249.2 v-5.8M388.5 92.3 v8.3M388.5 249.5 v-11.0M389.5 249.8 v-8.0M390.5 250.0 v-12.5M391.5 250.3 v-12.6M394.5 90.8 v4.1M395.5 251.4 v-6.5M396.5 90.3 v11.2M397.5 90.0 v7.5M398.5 252.2 v-8.8M399.5 89.5 v11.9M399.5 252.5 v-7.4M401.5 253.0 v-9.1M404.5 88.5 v7.8M404.5 253.7 v-4.8M407.5 87.8 v7.0M407.5 254.4 v-13.5M410.5 87.2 v13.3M410.5 255.1 v-12.0M411.5 87.0 v10.4M412.5 255.6 v-10.7M414.5 86.4 v14.0M417.5 85.7 v11.0M420.5 257.5 v-10.5M421.5 84.9 v8.8M422.5 84.8 v13.0M422.5 257.9 v-7.0M423.5 84.6 v4.9M424.5 84.4 v13.4M425.5 84.2 v9.8M426.5 84.0 v4.7M426.5 258.8 v-10.1M428.5 83.7 v8.5M429.5 83.5 v8.0M431.5 259.8 v-13.0M433.5 82.8 v8.9M433.5 260.2 v-4.8M435.5 82.4 v5.2M435.5 260.7 v-12.3M438.5 261.3 v-5.6M440.5 81.5 v7.2M441.5 261.8 v-8.7M442.5 81.3 v14.0M443.5 81.2 v7.6M444.5 81.1 v4.5M446.5 80.8 v8.8M447.5 80.7 v6.1M447.5 262.6 v-5.3M448.5 80.6 v10.6M448.5 262.7 v-11.8M450.5 80.3 v7.4M450.5 263.0 v-4.5M451.5 80.2 v7.6M452.5 80.1 v13.8M453.5 80.0 v6.0M454.5 79.9 v5.9M455.5 79.7 v13.7M455.5 263.6 v-14.0M456.5 79.6 v9.5M456.5 263.7 v-9.7M457.5 79.5 v5.1M457.5 263.9 v-12.2M459.5 79.3 v9.0M460.5 79.2 v5.5M462.5 79.0 v4.4M463.5 264.5 v-10.6M464.5 264.6 v-5.0M465.5 264.6 v-12.7M466.5 78.6 v7.1M467.5 264.8 v-4.3M468.5 78.4 v9.7M471.5 265.1 v-11.0M472.5 78.1 v4.7M474.5 265.4 v-11.7M475.5 265.4 v-8.7M477.5 77.6 v4.1M479.5 77.4 v5.2M480.5 77.4 v9.7M482.5 77.2 v11.5M483.5 77.1 v11.6M483.5 266.0 v-9.6M486.5 76.9 v4.3M486.5 266.3 v-12.8M488.5 76.7 v7.1M490.5 266.5 v-13.5M492.5 76.4 v13.7M492.5 266.7 v-13.5M493.5 76.3 v12.0M495.5 76.2 v11.5M495.5 266.9 v-6.8M499.5 75.8 v5.5M501.5 75.7 v7.9M501.5 267.3 v-11.7M502.5 75.6 v8.5M503.5 75.6 v6.7M503.5 267.4 v-13.2M505.5 75.4 v5.4M506.5 267.5 v-13.8M510.5 267.7 v-11.9M512.5 74.9 v4.6M512.5 267.8 v-11.1M514.5 74.8 v7.8M515.5 268.0 v-4.6M516.5 74.6 v9.2M516.5 268.0 v-12.3M517.5 74.6 v9.1M517.5 268.1 v-6.1M518.5 74.5 v12.1M518.5 268.1 v-9.8M519.5 74.4 v11.8M520.5 74.4 v13.2M521.5 268.2 v-8.6M522.5 74.3 v7.2M522.5 268.3 v-6.8M523.5 268.3 v-6.0M525.5 268.4 v-13.3M526.5 74.1 v5.0M526.5 268.4 v-9.9M527.5 268.4 v-12.4M528.5 74.0 v13.9M528.5 268.5 v-4.3M529.5 73.9 v7.7M533.5 268.6 v-7.2M534.5 73.7 v4.9M535.5 268.7 v-12.5M536.5 73.6 v6.4M537.5 73.5 v13.4M538.5 73.5 v9.5M538.5 268.8 v-13.2M539.5 73.4 v9.1M541.5 73.4 v7.2M541.5 268.8 v-6.0M543.5 73.3 v10.5M544.5 73.3 v7.9M544.5 268.9 v-7.8M545.5 73.2 v12.1M548.5 73.1 v12.3M548.5 269.0 v-10.2M549.5 73.1 v11.5M551.5 73.1 v4.2M551.5 269.1 v-13.7M552.5 73.0 v6.3M552.5 269.1 v-7.7M553.5 73.0 v11.4M553.5 269.1 v-8.5M554.5 269.2 v-5.5M555.5 72.9 v6.5M555.5 269.2 v-9.7M556.5 72.9 v12.0M556.5 269.2 v-5.1M558.5 72.8 v9.1M561.5 72.8 v11.5M562.5 72.8 v6.6M562.5 269.4 v-6.4M563.5 72.7 v8.2M563.5 269.4 v-12.3M564.5 269.4 v-10.4M565.5 72.7 v9.1M566.5 72.7 v11.9M567.5 72.7 v7.6M567.5 269.4 v-8.1M568.5 72.6 v5.8M569.5 269.5 v-5.8M572.5 269.6 v-5.4M574.5 72.5 v7.1M574.5 269.6 v-10.9M577.5 72.5 v6.8M578.5 269.7 v-8.1M579.5 269.7 v-10.7M580.5 72.4 v9.6M581.5 72.4 v11.0M582.5 269.7 v-13.3M583.5 269.7 v-7.6M584.5 72.3 v12.3M587.5 72.2 v5.1M588.5 72.2 v4.3M589.5 72.2 v6.4M589.5 269.8 v-10.2M590.5 72.2 v7.1M591.5 269.8 v-13.3M592.5 269.8 v-12.4M594.5 72.1 v8.4M594.5 269.8 v-4.9M595.5 72.1 v6.7M597.5 72.0 v5.2M598.5 269.9 v-6.3M600.5 72.0 v13.5M600.5 269.9 v-10.3M602.5 269.9 v-13.7M603.5 72.0 v7.6M603.5 269.9 v-12.4M606.5 71.9 v8.0M607.5 71.9 v5.5M608.5 71.9 v12.7M609.5 71.9 v5.1M609.5 270.0 v-7.2M610.5 71.9 v10.7M610.5 270.0 v-8.2M611.5 71.9 v14.0M612.5 71.9 v13.8M613.5 71.9 v12.7M616.5 71.8 v5.0M616.5 270.1 v-4.1M617.5 71.8 v4.4M617.5 270.1 v-7.5M618.5 71.8 v4.6M620.5 71.8 v9.9M621.5 71.8 v9.1M623.5 71.8 v11.4M624.5 71.8 v8.5M625.5 71.7 v7.9M626.5 71.7 v12.9M626.5 270.2 v-8.8M627.5 270.2 v-7.3M628.5 71.7 v9.5M629.5 71.7 v13.2M629.5 270.2 v-13.5M630.5 71.7 v7.3M630.5 270.2 v-12.8M631.5 71.7 v4.6M631.5 270.2 v-9.5M632.5 270.2 v-10.6M634.5 71.7 v11.6M636.5 270.3 v-10.7M637.5 71.6 v6.0M638.5 71.6 v12.4M638.5 270.3 v-12.6M640.5 71.6 v10.3M641.5 270.3 v-5.0M642.5 71.6 v9.5M642.5 270.3 v-8.0M643.5 270.3 v-12.5M644.5 71.6 v10.2M644.5 270.3 v-12.5M645.5 270.4 v-7.5M646.5 71.5 v9.3M647.5 270.4 v-11.5M648.5 270.4 v-7.0M650.5 71.5 v7.8M650.5 270.4 v-12.2M651.5 71.5 v13.7M652.5 71.5 v7.3M654.5 71.5 v6.6M655.5 71.5 v9.4M655.5 270.4 v-10.2M656.5 71.5 v12.3M657.5 71.5 v8.6M657.5 270.4 v-10.8M658.5 270.4 v-4.7M659.5 71.5 v8.1M661.5 71.5 v5.9M661.5 270.4 v-8.0M664.5 270.5 v-7.6M665.5 71.5 v4.8M665.5 270.5 v-5.8M666.5 270.5 v-7.4M670.5 71.5 v12.9M670.5 270.5 v-4.6M671.5 270.5 v-9.7M673.5 270.5 v-4.0M675.5 270.5 v-5.0M676.5 71.4 v4.3M676.5 270.5 v-11.7M679.5 71.4 v6.0M680.5 71.4 v9.2M681.5 71.4 v4.8M683.5 71.4 v12.0M685.5 71.4 v6.4M685.5 270.5 v-4.3M687.5 270.6 v-5.9M688.5 270.6 v-6.2M689.5 71.4 v11.6M689.5 270.6 v-4.5M690.5 71.4 v6.2M690.5 270.6 v-9.9M691.5 71.4 v4.1M692.5 270.6 v-6.5M694.5 71.4 v10.8M695.5 270.6 v-8.0M696.5 270.6 v-12.7M697.5 71.4 v5.7M697.5 270.6 v-4.1M698.5 270.6 v-7.6M699.5 71.4 v12.7M699.5 270.6 v-10.5M700.5 270.6 v-13.1M701.5 270.6 v-8.7M702.5 71.4 v8.4M702.5 270.6 v-4.3M703.5 270.6 v-5.3M704.5 71.4 v9.4M706.5 270.6 v-7.7M707.5 71.4 v8.1M708.5 270.6 v-8.8M709.5 71.4 v12.6M711.5 270.6 v-13.9M712.5 270.6 v-9.1M713.5 71.4 v11.5M714.5 71.4 v12.5M715.5 270.6 v-11.2M716.5 71.4 v4.2M718.5 71.4 v5.9M719.5 71.4 v13.1M720.5 270.6 v-11.2M721.5 71.4 v6.9M722.5 71.4 v7.6M725.5 270.6 v-7.7M727.5 270.6 v-11.0M729.5 71.4 v13.1M729.5 270.6 v-6.9M730.5 71.4 v10.1M730.5 270.6 v-10.8M731.5 71.4 v10.1M731.5 270.6 v-11.6M732.5 71.4 v11.4M734.5 270.6 v-9.0M737.5 270.6 v-11.6M741.5 270.6 v-7.2M742.5 270.6 v-13.1M743.5 71.4 v11.4M744.5 270.6 v-9.3M745.5 71.4 v13.5M745.5 270.6 v-7.4M749.5 71.4 v10.7M751.5 71.4 v13.5M752.5 270.6 v-5.6M753.5 270.6 v-6.6M754.5 270.6 v-7.5M755.5 71.4 v10.4M755.5 270.6 v-10.9M757.5 270.6 v-10.9M758.5 71.4 v10.4M759.5 71.4 v11.1M760.5 71.4 v10.3M760.5 270.6 v-8.2M762.5 71.4 v13.8M763.5 71.4 v6.1M764.5 71.4 v8.9M764.5 270.6 v-13.0M765.5 71.4 v5.1M765.5 270.6 v-13.6M766.5 71.4 v8.5M767.5 71.4 v9.6M767.5 270.6 v-8.7M769.5 270.6 v-11.4M770.5 71.4 v10.5M772.5 71.4 v7.6M772.5 270.6 v-6.9M775.5 71.4 v11.5M775.5 270.6 v-8.0M776.5 71.4 v7.7M778.5 270.6 v-11.2M779.5 71.4 v10.2M779.5 270.6 v-10.5M780.5 71.4 v6.3M780.5 270.6 v-13.2M781.5 270.6 v-4.6M782.5 71.4 v12.0M783.5 270.6 v-4.5M784.5 71.4 v8.2M786.5 270.6 v-6.3M787.5 71.4 v10.4M787.5 270.6 v-13.8M789.5 71.4 v7.7M789.5 270.6 v-10.1M791.5 71.4 v4.7M791.5 270.6 v-11.1M792.5 270.6 v-4.1M793.5 270.6 v-11.2M794.5 71.4 v4.0M797.5 270.6 v-9.3M798.5 270.6 v-8.0M799.5 270.6 v-12.1M800.5 270.6 v-10.6M801.5 270.6 v-7.7M802.5 270.6 v-12.7M804.5 270.6 v-11.4M805.5 270.6 v-9.8M807.5 71.4 v6.4M807.5 270.6 v-6.6M808.5 71.4 v13.7M808.5 270.6 v-11.5M809.5 71.4 v12.4M810.5 71.4 v10.7M811.5 71.4 v8.6M815.5 270.6 v-9.0" stroke="rgba(255,255,255,0.09)" stroke-width="1" fill="none"/>
</g><g id="ldv">
<path d="M161 420 H227" stroke="#1616e0" stroke-width="2.4" fill="none"/>
<path d="M226.0 420.6 L227.0 420.6 L227.0 418.1 L228.0 418.1 L228.0 416.6 L229.0 416.6 L229.0 414.7 L230.0 414.7 L230.0 413.2 L231.0 413.2 L231.0 410.7 L232.0 410.7 L232.0 408.9 L233.0 408.9 L233.0 407.6 L234.0 407.6 L234.0 405.7 L235.0 405.7 L235.0 403.9 L236.0 403.9 L236.0 402.4 L237.0 402.4 L237.0 400.9 L238.0 400.9 L238.0 400.0 L239.0 400.0 L239.0 397.9 L240.0 397.9 L240.0 396.7 L241.0 396.7 L241.0 394.9 L242.0 394.9 L242.0 393.4 L243.0 393.4 L243.0 392.0 L244.0 392.0 L244.0 390.9 L245.0 390.9 L245.0 389.7 L246.0 389.7 L246.0 389.1 L247.0 389.1 L247.0 387.3 L248.0 387.3 L248.0 386.4 L249.0 386.4 L249.0 384.9 L250.0 384.9 L250.0 383.8 L251.0 383.8 L251.0 382.6 L252.0 382.6 L252.0 381.7 L253.0 381.7 L253.0 380.7 L254.0 380.7 L254.0 380.6 L255.0 380.6 L255.0 379.3 L256.0 379.3 L256.0 379.1 L257.0 379.1 L257.0 377.8 L258.0 377.8 L258.0 377.1 L259.0 377.1 L259.0 376.4 L260.0 376.4 L260.0 375.7 L261.0 375.7 L261.0 374.9 L262.0 374.9 L262.0 374.3 L263.0 374.3 L263.0 373.6 L264.0 373.6 L264.0 372.9 L265.0 372.9 L265.0 372.2 L266.0 372.2 L266.0 371.5 L267.0 371.5 L267.0 371.5 L268.0 371.5 L268.0 370.8 L269.0 370.8 L269.0 369.5 L270.0 369.5 L270.0 369.1 L271.0 369.1 L271.0 368.2 L272.0 368.2 L272.0 368.2 L273.0 368.2 L273.0 367.1 L274.0 367.1 L274.0 366.5 L275.0 366.5 L275.0 365.9 L276.0 365.9 L276.0 365.9 L277.0 365.9 L277.0 364.8 L278.0 364.8 L278.0 364.8 L279.0 364.8 L279.0 363.6 L280.0 363.6 L280.0 363.0 L281.0 363.0 L281.0 362.5 L282.0 362.5 L282.0 362.0 L283.0 362.0 L283.0 361.5 L284.0 361.5 L284.0 361.0 L285.0 361.0 L285.0 360.8 L286.0 360.8 L286.0 360.0 L287.0 360.0 L287.0 360.1 L288.0 360.1 L288.0 359.3 L289.0 359.3 L289.0 358.5 L290.0 358.5 L290.0 358.0 L291.0 358.0 L291.0 357.8 L292.0 357.8 L292.0 357.0 L293.0 357.0 L293.0 356.5 L294.0 356.5 L294.0 356.0 L295.0 356.0 L295.0 355.5 L296.0 355.5 L296.0 355.0 L297.0 355.0 L297.0 355.1 L298.0 355.1 L298.0 354.0 L299.0 354.0 L299.0 353.8 L300.0 353.8 L300.0 353.0 L301.0 353.0 L301.0 353.3 L302.0 353.3 L302.0 352.3 L303.0 352.3 L303.0 352.6 L304.0 352.6 L304.0 351.6 L305.0 351.6 L305.0 351.6 L306.0 351.6 L306.0 350.9 L307.0 350.9 L307.0 350.6 L308.0 350.6 L308.0 350.2 L309.0 350.2 L309.0 349.9 L310.0 349.9 L310.0 349.8 L311.0 349.8 L311.0 349.8 L312.0 349.8 L312.0 349.1 L313.0 349.1 L313.0 348.5 L314.0 348.5 L314.0 348.1 L315.0 348.1 L315.0 347.8 L316.0 347.8 L316.0 347.4 L317.0 347.4 L317.0 347.7 L318.0 347.7 L318.0 347.3 L319.0 347.3 L319.0 346.7 L320.0 346.7 L320.0 346.4 L321.0 346.4 L321.0 345.8 L322.0 345.8 L322.0 345.8 L323.0 345.8 L323.0 345.4 L324.0 345.4 L324.0 344.8 L325.0 344.8 L325.0 345.2 L326.0 345.2 L326.0 344.9 L327.0 344.9 L327.0 343.9 L328.0 343.9 L328.0 343.6 L329.0 343.6 L329.0 343.3 L330.0 343.3 L330.0 343.7 L331.0 343.7 L331.0 342.8 L332.0 342.8 L332.0 342.4 L333.0 342.4 L333.0 342.1 L334.0 342.1 L334.0 342.4 L335.0 342.4 L335.0 342.2 L336.0 342.2 L336.0 341.2 L337.0 341.2 L337.0 340.9 L338.0 340.9 L338.0 340.6 L339.0 340.6 L339.0 340.3 L340.0 340.3 L340.0 340.4 L341.0 340.4 L341.0 339.8 L342.0 339.8 L342.0 340.2 L343.0 340.2 L343.0 339.6 L344.0 339.6 L344.0 339.4 L345.0 339.4 L345.0 338.8 L346.0 338.8 L346.0 338.5 L347.0 338.5 L347.0 338.3 L348.0 338.3 L348.0 338.0 L349.0 338.0 L349.0 338.4 L350.0 338.4 L350.0 337.8 L351.0 337.8 L351.0 337.3 L352.0 337.3 L352.0 337.0 L353.0 337.0 L353.0 336.8 L354.0 336.8 L354.0 336.5 L355.0 336.5 L355.0 336.5 L356.0 336.5 L356.0 336.6 L357.0 336.6 L357.0 335.7 L358.0 335.7 L358.0 335.5 L359.0 335.5 L359.0 335.2 L360.0 335.2 L360.0 335.0 L361.0 335.0 L361.0 335.1 L362.0 335.1 L362.0 334.6 L363.0 334.6 L363.0 334.4 L364.0 334.4 L364.0 334.8 L365.0 334.8 L365.0 334.0 L366.0 334.0 L366.0 333.8 L367.0 333.8 L367.0 334.2 L368.0 334.2 L368.0 334.0 L369.0 334.0 L369.0 333.8 L370.0 333.8 L370.0 333.6 L371.0 333.6 L371.0 332.8 L372.0 332.8 L372.0 332.6 L373.0 332.6 L373.0 333.0 L374.0 333.0 L374.0 332.2 L375.0 332.2 L375.0 332.0 L376.0 332.0 L376.0 332.1 L377.0 332.1 L377.0 332.2 L378.0 332.2 L378.0 331.4 L379.0 331.4 L379.0 331.2 L380.0 331.2 L380.0 331.0 L381.0 331.0 L381.0 330.9 L382.0 330.9 L382.0 330.7 L383.0 330.7 L383.0 330.6 L384.0 330.6 L384.0 330.4 L385.0 330.4 L385.0 330.2 L386.0 330.2 L386.0 330.1 L387.0 330.1 L387.0 330.5 L388.0 330.5 L388.0 329.8 L389.0 329.8 L389.0 329.6 L390.0 329.6 L390.0 330.1 L391.0 330.1 L391.0 329.6 L392.0 329.6 L392.0 329.2 L393.0 329.2 L393.0 329.0 L394.0 329.0 L394.0 328.9 L395.0 328.9 L395.0 328.7 L396.0 328.7 L396.0 328.8 L397.0 328.8 L397.0 329.0 L398.0 329.0 L398.0 328.2 L399.0 328.2 L399.0 328.1 L400.0 328.1 L400.0 327.9 L401.0 327.9 L401.0 327.8 L402.0 327.8 L402.0 327.6 L403.0 327.6 L403.0 327.4 L404.0 327.4 L404.0 327.3 L405.0 327.3 L405.0 327.1 L406.0 327.1 L406.0 327.3 L407.0 327.3 L407.0 327.1 L408.0 327.1 L408.0 326.9 L409.0 326.9 L409.0 326.8 L410.0 326.8 L410.0 326.9 L411.0 326.9 L411.0 326.2 L412.0 326.2 L412.0 326.0 L413.0 326.0 L413.0 326.4 L414.0 326.4 L414.0 325.7 L415.0 325.7 L415.0 325.5 L416.0 325.5 L416.0 325.4 L417.0 325.4 L417.0 325.2 L418.0 325.2 L418.0 325.0 L419.0 325.0 L419.0 325.5 L420.0 325.5 L420.0 325.3 L421.0 325.3 L421.0 324.6 L422.0 324.6 L422.0 324.5 L423.0 324.5 L423.0 324.3 L424.0 324.3 L424.0 324.8 L425.0 324.8 L425.0 324.1 L426.0 324.1 L426.0 324.6 L427.0 324.6 L427.0 323.8 L428.0 323.8 L428.0 323.7 L429.0 323.7 L429.0 324.2 L430.0 324.2 L430.0 323.4 L431.0 323.4 L431.0 323.6 L432.0 323.6 L432.0 323.2 L433.0 323.2 L433.0 323.3 L434.0 323.3 L434.0 322.9 L435.0 322.9 L435.0 323.1 L436.0 323.1 L436.0 322.7 L437.0 322.7 L437.0 322.5 L438.0 322.5 L438.0 322.4 L439.0 322.4 L439.0 322.3 L440.0 322.3 L440.0 322.8 L441.0 322.8 L441.0 322.1 L442.0 322.1 L442.0 321.9 L443.0 321.9 L443.0 321.8 L444.0 321.8 L444.0 321.8 L445.0 321.8 L445.0 321.6 L446.0 321.6 L446.0 321.6 L447.0 321.6 L447.0 321.4 L448.0 321.4 L448.0 321.6 L449.0 321.6 L449.0 321.6 L450.0 321.6 L450.0 321.1 L451.0 321.1 L451.0 321.7 L452.0 321.7 L452.0 320.9 L453.0 320.9 L453.0 321.4 L454.0 321.4 L454.0 320.8 L455.0 320.8 L455.0 320.6 L456.0 320.6 L456.0 320.6 L457.0 320.6 L457.0 320.4 L458.0 320.4 L458.0 320.3 L459.0 320.3 L459.0 320.9 L460.0 320.9 L460.0 320.2 L461.0 320.2 L461.0 320.1 L462.0 320.1 L462.0 320.0 L463.0 320.0 L463.0 320.5 L464.0 320.5 L464.0 319.9 L465.0 319.9 L465.0 319.8 L466.0 319.8 L466.0 319.7 L467.0 319.7 L467.0 319.6 L468.0 319.6 L468.0 319.6 L469.0 319.6 L469.0 320.1 L470.0 320.1 L470.0 319.4 L471.0 319.4 L471.0 319.3 L472.0 319.3 L472.0 319.3 L473.0 319.3 L473.0 319.2 L474.0 319.2 L474.0 319.1 L475.0 319.1 L475.0 319.0 L476.0 319.0 L476.0 319.0 L477.0 319.0 L477.0 319.2 L478.0 319.2 L478.0 319.1 L479.0 319.1 L479.0 319.3 L480.0 319.3 L480.0 318.7 L481.0 318.7 L481.0 318.6 L482.0 318.6 L482.0 318.6 L483.0 318.6 L483.0 318.8 L484.0 318.8 L484.0 318.5 L485.0 318.5 L485.0 318.4 L486.0 318.4 L486.0 319.0 L487.0 319.0 L487.0 318.3 L488.0 318.3 L488.0 318.6 L489.0 318.6 L489.0 318.8 L490.0 318.8 L490.0 318.5 L491.0 318.5 L491.0 318.1 L492.0 318.1 L492.0 318.4 L493.0 318.4 L493.0 318.0 L494.0 318.0 L494.0 318.0 L495.0 318.0 L495.0 317.9 L496.0 317.9 L496.0 318.5 L497.0 318.5 L497.0 317.8 L498.0 317.8 L498.0 317.8 L499.0 317.8 L499.0 318.0 L500.0 318.0 L500.0 318.3 L501.0 318.3 L501.0 317.6 L502.0 317.6 L502.0 317.6 L503.0 317.6 L503.0 317.6 L504.0 317.6 L504.0 317.5 L505.0 317.5 L505.0 317.5 L506.0 317.5 L506.0 317.4 L507.0 317.4 L507.0 317.4 L508.0 317.4 L508.0 318.0 L509.0 318.0 L509.0 317.3 L510.0 317.3 L510.0 317.3 L511.0 317.3 L511.0 317.2 L512.0 317.2 L512.0 317.5 L513.0 317.5 L513.0 317.2 L514.0 317.2 L514.0 317.7 L515.0 317.7 L515.0 317.7 L516.0 317.7 L516.0 317.6 L517.0 317.6 L517.0 317.0 L518.0 317.0 L518.0 317.6 L519.0 317.6 L519.0 317.5 L520.0 317.5 L520.0 316.9 L521.0 316.9 L521.0 316.9 L522.0 316.9 L522.0 317.4 L523.0 317.4 L523.0 316.8 L524.0 316.8 L524.0 317.1 L525.0 317.1 L525.0 316.7 L526.0 316.7 L526.0 316.7 L527.0 316.7 L527.0 317.3 L528.0 317.3 L528.0 316.9 L529.0 316.9 L529.0 317.2 L530.0 317.2 L530.0 316.6 L531.0 316.6 L531.0 316.6 L532.0 316.6 L532.0 317.1 L533.0 317.1 L533.0 317.1 L534.0 317.1 L534.0 316.5 L535.0 316.5 L535.0 316.4 L536.0 316.4 L536.0 316.4 L537.0 316.4 L537.0 316.4 L538.0 316.4 L538.0 316.9 L539.0 316.9 L539.0 316.6 L540.0 316.6 L540.0 316.3 L541.0 316.3 L541.0 316.3 L542.0 316.3 L542.0 316.2 L543.0 316.2 L543.0 316.2 L544.0 316.2 L544.0 316.5 L545.0 316.5 L545.0 316.2 L546.0 316.2 L546.0 316.2 L547.0 316.2 L547.0 316.8 L548.0 316.8 L548.0 316.1 L549.0 316.1 L549.0 316.1 L550.0 316.1 L550.0 316.1 L551.0 316.1 L551.0 316.7 L552.0 316.7 L552.0 316.7 L553.0 316.7 L553.0 316.0 L554.0 316.0 L554.0 316.6 L555.0 316.6 L555.0 316.0 L556.0 316.0 L556.0 316.0 L557.0 316.0 L557.0 316.6 L558.0 316.6 L558.0 315.9 L559.0 315.9 L559.0 315.9 L560.0 315.9 L560.0 315.9 L561.0 315.9 L561.0 315.9 L562.0 315.9 L562.0 316.5 L563.0 316.5 L563.0 315.9 L564.0 315.9 L564.0 315.9 L565.0 315.9 L565.0 315.8 L566.0 315.8 L566.0 316.1 L567.0 316.1 L567.0 316.1 L568.0 316.1 L568.0 315.8 L569.0 315.8 L569.0 315.8 L570.0 315.8 L570.0 316.1 L571.0 316.1 L571.0 316.1 L572.0 316.1 L572.0 315.8 L573.0 315.8 L573.0 315.8 L574.0 315.8 L574.0 315.8 L575.0 315.8 L575.0 315.7 L576.0 315.7 L576.0 315.7 L577.0 315.7 L577.0 315.7 L578.0 315.7 L578.0 316.0 L579.0 316.0 L579.0 315.7 L580.0 315.7 L580.0 315.7 L581.0 315.7 L581.0 315.7 L582.0 315.7 L582.0 316.3 L583.0 316.3 L583.0 316.0 L584.0 316.0 L584.0 316.0 L585.0 316.0 L585.0 316.0 L586.0 316.0 L586.0 315.7 L587.0 315.7 L587.0 315.7 L588.0 315.7 L588.0 315.7 L589.0 315.7 L589.0 315.7 L590.0 315.7 L590.0 315.6 L591.0 315.6 L591.0 315.9 L592.0 315.9 L592.0 315.6 L593.0 315.6 L593.0 315.6 L594.0 315.6 L594.0 315.6 L595.0 315.6 L595.0 315.6 L596.0 315.6 L596.0 315.6 L597.0 315.6 L597.0 315.9 L598.0 315.9 L598.0 315.6 L599.0 315.6 L599.0 315.6 L600.0 315.6 L600.0 315.9 L601.0 315.9 L601.0 315.6 L602.0 315.6 L602.0 316.2 L603.0 316.2 L603.0 315.6 L604.0 315.6 L604.0 316.0 L605.0 316.0 L605.0 315.7 L606.0 315.7 L606.0 315.7 L607.0 315.7 L607.0 315.7 L608.0 315.7 L608.0 315.7 L609.0 315.7 L609.0 315.7 L610.0 315.7 L610.0 315.7 L611.0 315.7 L611.0 315.7 L612.0 315.7 L612.0 316.1 L613.0 316.1 L613.0 315.8 L614.0 315.8 L614.0 315.8 L615.0 315.8 L615.0 315.8 L616.0 315.8 L616.0 316.4 L617.0 316.4 L617.0 316.4 L618.0 316.4 L618.0 316.1 L619.0 316.1 L619.0 315.8 L620.0 315.8 L620.0 316.4 L621.0 316.4 L621.0 315.9 L622.0 315.9 L622.0 315.9 L623.0 315.9 L623.0 315.9 L624.0 315.9 L624.0 315.9 L625.0 315.9 L625.0 316.2 L626.0 316.2 L626.0 315.9 L627.0 315.9 L627.0 316.2 L628.0 316.2 L628.0 315.9 L629.0 315.9 L629.0 316.0 L630.0 316.0 L630.0 316.0 L631.0 316.0 L631.0 316.0 L632.0 316.0 L632.0 316.0 L633.0 316.0 L633.0 316.0 L634.0 316.0 L634.0 316.0 L635.0 316.0 L635.0 316.0 L636.0 316.0 L636.0 316.0 L637.0 316.0 L637.0 316.7 L638.0 316.7 L638.0 316.1 L639.0 316.1 L639.0 316.1 L640.0 316.1 L640.0 316.1 L641.0 316.1 L641.0 316.4 L642.0 316.4 L642.0 316.4 L643.0 316.4 L643.0 316.1 L644.0 316.1 L644.0 316.4 L645.0 316.4 L645.0 316.1 L646.0 316.1 L646.0 316.5 L647.0 316.5 L647.0 316.2 L648.0 316.2 L648.0 316.2 L649.0 316.2 L649.0 316.8 L650.0 316.8 L650.0 316.2 L651.0 316.2 L651.0 316.2 L652.0 316.2 L652.0 316.2 L653.0 316.2 L653.0 316.2 L654.0 316.2 L654.0 316.2 L655.0 316.2 L655.0 316.8 L656.0 316.8 L656.0 316.8 L657.0 316.8 L657.0 316.2 L658.0 316.2 L658.0 316.9 L659.0 316.9 L659.0 316.6 L660.0 316.6 L660.0 316.3 L661.0 316.3 L661.0 316.3 L662.0 316.3 L662.0 316.3 L663.0 316.3 L663.0 316.3 L664.0 316.3 L664.0 316.3 L665.0 316.3 L665.0 316.3 L666.0 316.3 L666.0 316.3 L667.0 316.3 L667.0 316.6 L668.0 316.6 L668.0 316.3 L669.0 316.3 L669.0 316.9 L670.0 316.9 L670.0 316.6 L671.0 316.6 L671.0 316.3 L672.0 316.3 L672.0 316.3 L673.0 316.3 L673.0 316.3 L674.0 316.3 L674.0 316.9 L675.0 316.9 L675.0 316.4 L676.0 316.4 L676.0 317.0 L677.0 317.0 L677.0 317.0 L678.0 317.0 L678.0 316.4 L679.0 316.4 L679.0 317.0 L680.0 317.0 L680.0 316.4 L681.0 316.4 L681.0 316.7 L682.0 316.7 L682.0 316.4 L683.0 316.4 L683.0 316.4 L684.0 316.4 L684.0 316.4 L685.0 316.4 L685.0 316.4 L686.0 316.4 L686.0 316.4 L687.0 316.4 L687.0 316.4 L688.0 316.4 L688.0 316.4 L689.0 316.4 L689.0 316.4 L690.0 316.4 L690.0 316.4 L691.0 316.4 L691.0 316.4 L692.0 316.4 L692.0 316.5 L693.0 316.5 L693.0 316.5 L694.0 316.5 L694.0 316.5 L695.0 316.5 L695.0 317.1 L696.0 317.1 L696.0 316.5 L697.0 316.5 L697.0 316.8 L698.0 316.8 L698.0 317.1 L699.0 317.1 L699.0 316.5 L700.0 316.5 L700.0 316.5 L701.0 316.5 L701.0 316.5 L702.0 316.5 L702.0 316.5 L703.0 316.5 L703.0 316.5 L704.0 316.5 L704.0 316.8 L705.0 316.8 L705.0 317.1 L706.0 317.1 L706.0 316.5 L707.0 316.5 L707.0 317.1 L708.0 317.1 L708.0 316.5 L709.0 316.5 L709.0 316.8 L710.0 316.8 L710.0 316.5 L711.0 316.5 L711.0 316.8 L712.0 316.8 L712.0 316.8 L713.0 316.8 L713.0 316.5 L714.0 316.5 L714.0 317.1 L715.0 317.1 L715.0 316.8 L716.0 316.8 L716.0 316.8 L717.0 316.8 L717.0 316.5 L718.0 316.5 L718.0 316.8 L719.0 316.8 L719.0 316.8 L720.0 316.8 L720.0 316.8 L721.0 316.8 L721.0 316.5 L722.0 316.5 L722.0 316.5 L723.0 316.5 L723.0 316.5 L724.0 316.5 L724.0 317.1 L725.0 317.1 L725.0 317.1 L726.0 317.1 L726.0 316.5 L727.0 316.5 L727.0 317.1 L728.0 317.1 L728.0 316.8 L729.0 316.8 L729.0 316.5 L730.0 316.5 L730.0 316.5 L731.0 316.5 L731.0 316.5 L732.0 316.5 L732.0 316.5 L733.0 316.5 L733.0 317.1 L734.0 317.1 L734.0 316.5 L735.0 316.5 L735.0 316.5 L736.0 316.5 L736.0 316.8 L737.0 316.8 L737.0 317.1 L738.0 317.1 L738.0 316.5 L739.0 316.5 L739.0 316.8 L740.0 316.8 L740.0 317.1 L741.0 317.1 L741.0 316.5 L742.0 316.5 L742.0 316.8 L743.0 316.8 L743.0 317.1 L744.0 317.1 L744.0 316.5 L745.0 316.5 L745.0 316.8 L746.0 316.8 L746.0 316.8 L747.0 316.8 L747.0 317.1 L748.0 317.1 L748.0 316.5 L749.0 316.5 L749.0 317.1 L750.0 317.1 L750.0 317.1 L751.0 317.1 L751.0 316.8 L752.0 316.8 L752.0 316.5 L753.0 316.5 L753.0 316.8 L754.0 316.8 L754.0 316.5 L755.0 316.5 L755.0 316.5 L756.0 316.5 L756.0 316.8 L757.0 316.8 L757.0 317.1 L758.0 317.1 L758.0 316.5 L759.0 316.5 L759.0 317.2 L760.0 317.2 L760.0 316.6 L761.0 316.6 L761.0 316.6 L762.0 316.6 L762.0 317.2 L763.0 317.2 L763.0 316.6 L764.0 316.6 L764.0 317.2 L765.0 317.2 L765.0 316.6 L766.0 316.6 L766.0 316.6 L767.0 316.6 L767.0 316.9 L768.0 316.9 L768.0 316.6 L769.0 316.6 L769.0 317.2 L770.0 317.2 L770.0 317.2 L771.0 317.2 L771.0 316.9 L772.0 316.9 L772.0 317.2 L773.0 317.2 L773.0 316.6 L774.0 316.6 L774.0 316.6 L775.0 316.6 L775.0 316.6 L776.0 316.6 L776.0 317.2 L777.0 317.2 L777.0 316.6 L778.0 316.6 L778.0 317.2 L779.0 317.2 L779.0 316.6 L780.0 316.6 L780.0 317.2 L781.0 317.2 L781.0 316.6 L782.0 316.6 L782.0 316.6 L783.0 316.6 L783.0 316.6 L784.0 316.6 L784.0 316.6 L785.0 316.6 L785.0 316.6 L786.0 316.6 L786.0 316.9 L787.0 316.9 L787.0 316.6 L788.0 316.6 L788.0 316.6 L789.0 316.6 L789.0 316.6 L790.0 316.6 L790.0 316.9 L791.0 316.9 L791.0 316.6 L792.0 316.6 L792.0 316.9 L793.0 316.9 L793.0 316.6 L794.0 316.6 L794.0 316.9 L795.0 316.9 L795.0 316.6 L796.0 316.6 L796.0 316.6 L797.0 316.6 L797.0 316.9 L798.0 316.9 L798.0 316.6 L799.0 316.6 L799.0 316.6 L800.0 316.6 L800.0 316.6 L801.0 316.6 L801.0 317.2 L802.0 317.2 L802.0 317.2 L803.0 317.2 L803.0 316.6 L804.0 316.6 L804.0 316.9 L805.0 316.9 L805.0 316.6 L806.0 316.6 L806.0 316.6 L807.0 316.6 L807.0 316.9 L808.0 316.9 L808.0 316.6 L809.0 316.6 L809.0 316.9 L810.0 316.9 L810.0 316.6 L811.0 316.6 L811.0 316.9 L812.0 316.9 L812.0 316.9 L813.0 316.9 L813.0 316.6 L814.0 316.6 L814.0 317.2 L815.0 317.2 L815.0 316.6 L816.0 316.6 L816.0 316.6 L817.0 316.6 L817.0 316.6 L818.0 316.6 L818.0 521.5 L817.0 521.5 L817.0 521.8 L816.0 521.8 L816.0 521.2 L815.0 521.2 L815.0 521.2 L814.0 521.2 L814.0 521.2 L813.0 521.2 L813.0 521.8 L812.0 521.8 L812.0 521.8 L811.0 521.8 L811.0 521.8 L810.0 521.8 L810.0 521.8 L809.0 521.8 L809.0 521.8 L808.0 521.8 L808.0 521.5 L807.0 521.5 L807.0 521.8 L806.0 521.8 L806.0 521.8 L805.0 521.8 L805.0 521.5 L804.0 521.5 L804.0 521.2 L803.0 521.2 L803.0 521.8 L802.0 521.8 L802.0 521.2 L801.0 521.2 L801.0 521.8 L800.0 521.8 L800.0 521.5 L799.0 521.5 L799.0 521.4 L798.0 521.4 L798.0 521.1 L797.0 521.1 L797.0 521.7 L796.0 521.7 L796.0 521.7 L795.0 521.7 L795.0 521.7 L794.0 521.7 L794.0 521.7 L793.0 521.7 L793.0 521.4 L792.0 521.4 L792.0 521.4 L791.0 521.4 L791.0 521.7 L790.0 521.7 L790.0 521.1 L789.0 521.1 L789.0 521.4 L788.0 521.4 L788.0 521.7 L787.0 521.7 L787.0 521.7 L786.0 521.7 L786.0 521.7 L785.0 521.7 L785.0 521.7 L784.0 521.7 L784.0 521.4 L783.0 521.4 L783.0 521.7 L782.0 521.7 L782.0 521.1 L781.0 521.1 L781.0 521.1 L780.0 521.1 L780.0 521.7 L779.0 521.7 L779.0 521.4 L778.0 521.4 L778.0 521.7 L777.0 521.7 L777.0 521.7 L776.0 521.7 L776.0 521.4 L775.0 521.4 L775.0 521.1 L774.0 521.1 L774.0 521.1 L773.0 521.1 L773.0 521.7 L772.0 521.7 L772.0 521.7 L771.0 521.7 L771.0 521.7 L770.0 521.7 L770.0 521.1 L769.0 521.1 L769.0 521.4 L768.0 521.4 L768.0 521.7 L767.0 521.7 L767.0 521.7 L766.0 521.7 L766.0 521.7 L765.0 521.7 L765.0 521.7 L764.0 521.7 L764.0 521.7 L763.0 521.7 L763.0 521.1 L762.0 521.1 L762.0 521.4 L761.0 521.4 L761.0 521.7 L760.0 521.7 L760.0 521.7 L759.0 521.7 L759.0 521.0 L758.0 521.0 L758.0 521.0 L757.0 521.0 L757.0 521.6 L756.0 521.6 L756.0 521.3 L755.0 521.3 L755.0 521.6 L754.0 521.6 L754.0 521.3 L753.0 521.3 L753.0 521.0 L752.0 521.0 L752.0 521.6 L751.0 521.6 L751.0 521.6 L750.0 521.6 L750.0 521.6 L749.0 521.6 L749.0 521.6 L748.0 521.6 L748.0 521.6 L747.0 521.6 L747.0 521.6 L746.0 521.6 L746.0 521.6 L745.0 521.6 L745.0 521.3 L744.0 521.3 L744.0 521.6 L743.0 521.6 L743.0 521.3 L742.0 521.3 L742.0 521.6 L741.0 521.6 L741.0 521.6 L740.0 521.6 L740.0 521.6 L739.0 521.6 L739.0 521.6 L738.0 521.6 L738.0 521.0 L737.0 521.0 L737.0 521.3 L736.0 521.3 L736.0 521.3 L735.0 521.3 L735.0 521.6 L734.0 521.6 L734.0 521.6 L733.0 521.6 L733.0 521.6 L732.0 521.6 L732.0 521.6 L731.0 521.6 L731.0 521.6 L730.0 521.6 L730.0 521.6 L729.0 521.6 L729.0 521.0 L728.0 521.0 L728.0 521.3 L727.0 521.3 L727.0 521.3 L726.0 521.3 L726.0 521.6 L725.0 521.6 L725.0 521.6 L724.0 521.6 L724.0 521.6 L723.0 521.6 L723.0 521.0 L722.0 521.0 L722.0 521.6 L721.0 521.6 L721.0 521.6 L720.0 521.6 L720.0 521.2 L719.0 521.2 L719.0 521.5 L718.0 521.5 L718.0 520.9 L717.0 520.9 L717.0 521.2 L716.0 521.2 L716.0 521.2 L715.0 521.2 L715.0 521.2 L714.0 521.2 L714.0 521.5 L713.0 521.5 L713.0 521.5 L712.0 521.5 L712.0 520.9 L711.0 520.9 L711.0 521.2 L710.0 521.2 L710.0 521.5 L709.0 521.5 L709.0 521.5 L708.0 521.5 L708.0 521.5 L707.0 521.5 L707.0 521.2 L706.0 521.2 L706.0 520.9 L705.0 520.9 L705.0 521.5 L704.0 521.5 L704.0 521.5 L703.0 521.5 L703.0 521.5 L702.0 521.5 L702.0 521.2 L701.0 521.2 L701.0 521.2 L700.0 521.2 L700.0 521.5 L699.0 521.5 L699.0 521.2 L698.0 521.2 L698.0 521.2 L697.0 521.2 L697.0 521.5 L696.0 521.5 L696.0 520.9 L695.0 520.9 L695.0 521.1 L694.0 521.1 L694.0 521.4 L693.0 521.4 L693.0 520.8 L692.0 520.8 L692.0 521.1 L691.0 521.1 L691.0 520.8 L690.0 520.8 L690.0 521.4 L689.0 521.4 L689.0 521.4 L688.0 521.4 L688.0 521.4 L687.0 521.4 L687.0 521.4 L686.0 521.4 L686.0 521.4 L685.0 521.4 L685.0 521.3 L684.0 521.3 L684.0 520.7 L683.0 520.7 L683.0 520.7 L682.0 520.7 L682.0 521.3 L681.0 521.3 L681.0 520.7 L680.0 520.7 L680.0 521.0 L679.0 521.0 L679.0 521.0 L678.0 521.0 L678.0 521.3 L677.0 521.3 L677.0 520.7 L676.0 520.7 L676.0 521.0 L675.0 521.0 L675.0 521.2 L674.0 521.2 L674.0 521.2 L673.0 521.2 L673.0 521.2 L672.0 521.2 L672.0 521.2 L671.0 521.2 L671.0 520.9 L670.0 520.9 L670.0 520.9 L669.0 520.9 L669.0 521.2 L668.0 521.2 L668.0 520.6 L667.0 520.6 L667.0 521.2 L666.0 521.2 L666.0 521.2 L665.0 521.2 L665.0 520.8 L664.0 520.8 L664.0 521.1 L663.0 521.1 L663.0 521.1 L662.0 521.1 L662.0 521.1 L661.0 521.1 L661.0 521.1 L660.0 521.1 L660.0 520.5 L659.0 520.5 L659.0 521.1 L658.0 521.1 L658.0 521.1 L657.0 521.1 L657.0 520.5 L656.0 520.5 L656.0 520.8 L655.0 520.8 L655.0 521.0 L654.0 521.0 L654.0 520.7 L653.0 520.7 L653.0 521.0 L652.0 521.0 L652.0 521.0 L651.0 521.0 L651.0 521.0 L650.0 521.0 L650.0 521.0 L649.0 521.0 L649.0 521.0 L648.0 521.0 L648.0 521.0 L647.0 521.0 L647.0 520.9 L646.0 520.9 L646.0 520.9 L645.0 520.9 L645.0 520.9 L644.0 520.9 L644.0 520.9 L643.0 520.9 L643.0 520.3 L642.0 520.3 L642.0 520.9 L641.0 520.9 L641.0 520.8 L640.0 520.8 L640.0 520.8 L639.0 520.8 L639.0 520.8 L638.0 520.8 L638.0 520.5 L637.0 520.5 L637.0 520.5 L636.0 520.5 L636.0 520.8 L635.0 520.8 L635.0 520.8 L634.0 520.8 L634.0 520.7 L633.0 520.7 L633.0 520.1 L632.0 520.1 L632.0 520.4 L631.0 520.4 L631.0 520.7 L630.0 520.7 L630.0 520.7 L629.0 520.7 L629.0 520.7 L628.0 520.7 L628.0 520.6 L627.0 520.6 L627.0 520.0 L626.0 520.0 L626.0 520.6 L625.0 520.6 L625.0 520.6 L624.0 520.6 L624.0 520.6 L623.0 520.6 L623.0 520.6 L622.0 520.6 L622.0 519.9 L621.0 519.9 L621.0 520.5 L620.0 520.5 L620.0 520.5 L619.0 520.5 L619.0 520.5 L618.0 520.5 L618.0 519.9 L617.0 519.9 L617.0 519.9 L616.0 519.9 L616.0 520.4 L615.0 520.4 L615.0 520.4 L614.0 520.4 L614.0 520.4 L613.0 520.4 L613.0 519.8 L612.0 519.8 L612.0 520.4 L611.0 520.4 L611.0 520.4 L610.0 520.4 L610.0 519.8 L609.0 519.8 L609.0 520.3 L608.0 520.3 L608.0 520.3 L607.0 520.3 L607.0 519.7 L606.0 519.7 L606.0 519.7 L605.0 519.7 L605.0 520.0 L604.0 520.0 L604.0 520.0 L603.0 520.0 L603.0 520.2 L602.0 520.2 L602.0 520.2 L601.0 520.2 L601.0 520.2 L600.0 520.2 L600.0 520.2 L599.0 520.2 L599.0 520.2 L598.0 520.2 L598.0 520.2 L597.0 520.2 L597.0 520.1 L596.0 520.1 L596.0 519.5 L595.0 519.5 L595.0 519.8 L594.0 519.8 L594.0 520.1 L593.0 520.1 L593.0 520.1 L592.0 520.1 L592.0 520.1 L591.0 520.1 L591.0 520.1 L590.0 520.1 L590.0 520.0 L589.0 520.0 L589.0 519.4 L588.0 519.4 L588.0 519.4 L587.0 519.4 L587.0 520.0 L586.0 520.0 L586.0 520.0 L585.0 520.0 L585.0 520.0 L584.0 520.0 L584.0 519.4 L583.0 519.4 L583.0 519.6 L582.0 519.6 L582.0 519.9 L581.0 519.9 L581.0 519.9 L580.0 519.9 L580.0 519.9 L579.0 519.9 L579.0 519.9 L578.0 519.9 L578.0 519.2 L577.0 519.2 L577.0 519.8 L576.0 519.8 L576.0 519.2 L575.0 519.2 L575.0 519.2 L574.0 519.2 L574.0 519.8 L573.0 519.8 L573.0 519.8 L572.0 519.8 L572.0 519.4 L571.0 519.4 L571.0 519.7 L570.0 519.7 L570.0 519.7 L569.0 519.7 L569.0 519.1 L568.0 519.1 L568.0 519.0 L567.0 519.0 L567.0 519.6 L566.0 519.6 L566.0 519.3 L565.0 519.3 L565.0 519.6 L564.0 519.6 L564.0 519.6 L563.0 519.6 L563.0 519.5 L562.0 519.5 L562.0 519.5 L561.0 519.5 L561.0 519.5 L560.0 519.5 L560.0 519.5 L559.0 519.5 L559.0 519.5 L558.0 519.5 L558.0 519.5 L557.0 519.5 L557.0 519.1 L556.0 519.1 L556.0 519.4 L555.0 519.4 L555.0 519.4 L554.0 519.4 L554.0 519.4 L553.0 519.4 L553.0 519.4 L552.0 519.4 L552.0 519.3 L551.0 519.3 L551.0 519.3 L550.0 519.3 L550.0 519.3 L549.0 519.3 L549.0 519.3 L548.0 519.3 L548.0 519.2 L547.0 519.2 L547.0 518.6 L546.0 518.6 L546.0 518.9 L545.0 518.9 L545.0 519.2 L544.0 519.2 L544.0 518.9 L543.0 518.9 L543.0 519.1 L542.0 519.1 L542.0 518.5 L541.0 518.5 L541.0 518.5 L540.0 518.5 L540.0 519.1 L539.0 519.1 L539.0 519.1 L538.0 519.1 L538.0 519.1 L537.0 519.1 L537.0 518.7 L536.0 518.7 L536.0 518.7 L535.0 518.7 L535.0 518.4 L534.0 518.4 L534.0 519.0 L533.0 519.0 L533.0 519.0 L532.0 519.0 L532.0 518.3 L531.0 518.3 L531.0 518.9 L530.0 518.9 L530.0 518.6 L529.0 518.6 L529.0 518.3 L528.0 518.3 L528.0 518.9 L527.0 518.9 L527.0 518.8 L526.0 518.8 L526.0 518.8 L525.0 518.8 L525.0 518.8 L524.0 518.8 L524.0 518.8 L523.0 518.8 L523.0 518.8 L522.0 518.8 L522.0 518.7 L521.0 518.7 L521.0 518.4 L520.0 518.4 L520.0 518.4 L519.0 518.4 L519.0 518.7 L518.0 518.7 L518.0 518.6 L517.0 518.6 L517.0 518.6 L516.0 518.6 L516.0 518.6 L515.0 518.6 L515.0 518.5 L514.0 518.5 L514.0 518.5 L513.0 518.5 L513.0 518.5 L512.0 518.5 L512.0 518.4 L511.0 518.4 L511.0 518.4 L510.0 518.4 L510.0 518.4 L509.0 518.4 L509.0 517.8 L508.0 517.8 L508.0 517.7 L507.0 517.7 L507.0 518.3 L506.0 518.3 L506.0 518.3 L505.0 518.3 L505.0 517.6 L504.0 517.6 L504.0 518.2 L503.0 518.2 L503.0 518.2 L502.0 518.2 L502.0 517.8 L501.0 517.8 L501.0 518.1 L500.0 518.1 L500.0 518.1 L499.0 518.1 L499.0 518.0 L498.0 518.0 L498.0 517.4 L497.0 517.4 L497.0 517.4 L496.0 517.4 L496.0 517.3 L495.0 517.3 L495.0 517.9 L494.0 517.9 L494.0 517.8 L493.0 517.8 L493.0 517.5 L492.0 517.5 L492.0 517.8 L491.0 517.8 L491.0 517.7 L490.0 517.7 L490.0 517.4 L489.0 517.4 L489.0 517.6 L488.0 517.6 L488.0 517.6 L487.0 517.6 L487.0 517.3 L486.0 517.3 L486.0 517.5 L485.0 517.5 L485.0 517.5 L484.0 517.5 L484.0 516.8 L483.0 516.8 L483.0 516.8 L482.0 516.8 L482.0 517.4 L481.0 517.4 L481.0 517.3 L480.0 517.3 L480.0 517.3 L479.0 517.3 L479.0 517.2 L478.0 517.2 L478.0 517.1 L477.0 517.1 L477.0 516.8 L476.0 516.8 L476.0 517.0 L475.0 517.0 L475.0 516.7 L474.0 516.7 L474.0 516.9 L473.0 516.9 L473.0 516.9 L472.0 516.9 L472.0 516.5 L471.0 516.5 L471.0 516.7 L470.0 516.7 L470.0 516.7 L469.0 516.7 L469.0 516.0 L468.0 516.0 L468.0 516.5 L467.0 516.5 L467.0 516.5 L466.0 516.5 L466.0 516.4 L465.0 516.4 L465.0 516.1 L464.0 516.1 L464.0 516.3 L463.0 516.3 L463.0 516.2 L462.0 516.2 L462.0 515.9 L461.0 515.9 L461.0 516.1 L460.0 516.1 L460.0 516.1 L459.0 516.1 L459.0 516.0 L458.0 516.0 L458.0 515.3 L457.0 515.3 L457.0 515.8 L456.0 515.8 L456.0 515.7 L455.0 515.7 L455.0 515.7 L454.0 515.7 L454.0 515.6 L453.0 515.6 L453.0 514.9 L452.0 514.9 L452.0 515.4 L451.0 515.4 L451.0 514.7 L450.0 514.7 L450.0 515.3 L449.0 515.3 L449.0 515.2 L448.0 515.2 L448.0 514.8 L447.0 514.8 L447.0 515.0 L446.0 515.0 L446.0 514.9 L445.0 514.9 L445.0 514.9 L444.0 514.9 L444.0 514.8 L443.0 514.8 L443.0 514.7 L442.0 514.7 L442.0 514.3 L441.0 514.3 L441.0 514.2 L440.0 514.2 L440.0 514.5 L439.0 514.5 L439.0 514.4 L438.0 514.4 L438.0 514.0 L437.0 514.0 L437.0 514.2 L436.0 514.2 L436.0 514.1 L435.0 514.1 L435.0 514.0 L434.0 514.0 L434.0 513.9 L433.0 513.9 L433.0 513.5 L432.0 513.5 L432.0 513.7 L431.0 513.7 L431.0 513.0 L430.0 513.0 L430.0 513.5 L429.0 513.5 L429.0 513.4 L428.0 513.4 L428.0 513.3 L427.0 513.3 L427.0 512.6 L426.0 512.6 L426.0 513.1 L425.0 513.1 L425.0 513.0 L424.0 513.0 L424.0 512.9 L423.0 512.9 L423.0 512.5 L422.0 512.5 L422.0 512.7 L421.0 512.7 L421.0 512.0 L420.0 512.0 L420.0 512.5 L419.0 512.5 L419.0 512.4 L418.0 512.4 L418.0 511.9 L417.0 511.9 L417.0 511.5 L416.0 511.5 L416.0 511.9 L415.0 511.9 L415.0 511.8 L414.0 511.8 L414.0 511.6 L413.0 511.6 L413.0 511.5 L412.0 511.5 L412.0 511.0 L411.0 511.0 L411.0 511.2 L410.0 511.2 L410.0 511.0 L409.0 511.0 L409.0 510.9 L408.0 510.9 L408.0 510.7 L407.0 510.7 L407.0 510.3 L406.0 510.3 L406.0 510.1 L405.0 510.1 L405.0 510.0 L404.0 510.0 L404.0 509.5 L403.0 509.5 L403.0 509.4 L402.0 509.4 L402.0 509.8 L401.0 509.8 L401.0 509.7 L400.0 509.7 L400.0 509.5 L399.0 509.5 L399.0 509.0 L398.0 509.0 L398.0 509.2 L397.0 509.2 L397.0 509.0 L396.0 509.0 L396.0 508.8 L395.0 508.8 L395.0 508.6 L394.0 508.6 L394.0 507.9 L393.0 507.9 L393.0 508.0 L392.0 508.0 L392.0 508.1 L391.0 508.1 L391.0 507.3 L390.0 507.3 L390.0 507.8 L389.0 507.8 L389.0 507.6 L388.0 507.6 L388.0 507.4 L387.0 507.4 L387.0 506.6 L386.0 506.6 L386.0 506.8 L385.0 506.8 L385.0 506.9 L384.0 506.9 L384.0 506.7 L383.0 506.7 L383.0 506.5 L382.0 506.5 L382.0 506.4 L381.0 506.4 L381.0 505.6 L380.0 505.6 L380.0 505.7 L379.0 505.7 L379.0 505.5 L378.0 505.5 L378.0 505.7 L377.0 505.7 L377.0 504.9 L376.0 504.9 L376.0 505.3 L375.0 505.3 L375.0 505.1 L374.0 505.1 L374.0 504.9 L373.0 504.9 L373.0 504.8 L372.0 504.8 L372.0 504.6 L371.0 504.6 L371.0 504.4 L370.0 504.4 L370.0 503.6 L369.0 503.6 L369.0 503.7 L368.0 503.7 L368.0 503.6 L367.0 503.6 L367.0 503.7 L366.0 503.7 L366.0 503.5 L365.0 503.5 L365.0 503.3 L364.0 503.3 L364.0 503.1 L363.0 503.1 L363.0 502.6 L362.0 502.6 L362.0 502.2 L361.0 502.2 L361.0 502.3 L360.0 502.3 L360.0 501.8 L359.0 501.8 L359.0 502.2 L358.0 502.2 L358.0 501.9 L357.0 501.9 L357.0 501.4 L356.0 501.4 L356.0 501.5 L355.0 501.5 L355.0 501.2 L354.0 501.2 L354.0 501.0 L353.0 501.0 L353.0 500.2 L352.0 500.2 L352.0 500.5 L351.0 500.5 L351.0 499.7 L350.0 499.7 L350.0 500.1 L349.0 500.1 L349.0 499.9 L348.0 499.9 L348.0 499.0 L347.0 499.0 L347.0 499.4 L346.0 499.4 L346.0 499.2 L345.0 499.2 L345.0 498.9 L344.0 498.9 L344.0 498.7 L343.0 498.7 L343.0 498.5 L342.0 498.5 L342.0 497.9 L341.0 497.9 L341.0 498.0 L340.0 498.0 L340.0 497.2 L339.0 497.2 L339.0 497.2 L338.0 497.2 L338.0 496.6 L337.0 496.6 L337.0 497.0 L336.0 497.0 L336.0 496.4 L335.0 496.4 L335.0 496.4 L334.0 496.4 L334.0 496.1 L333.0 496.1 L333.0 495.9 L332.0 495.9 L332.0 495.3 L331.0 495.3 L331.0 494.7 L330.0 494.7 L330.0 495.1 L329.0 495.1 L329.0 494.8 L328.0 494.8 L328.0 494.2 L327.0 494.2 L327.0 494.3 L326.0 494.3 L326.0 494.0 L325.0 494.0 L325.0 493.1 L324.0 493.1 L324.0 493.4 L323.0 493.4 L323.0 493.2 L322.0 493.2 L322.0 492.9 L321.0 492.9 L321.0 492.6 L320.0 492.6 L320.0 492.0 L319.0 492.0 L319.0 491.7 L318.0 491.7 L318.0 491.6 L317.0 491.6 L317.0 490.7 L316.0 490.7 L316.0 490.9 L315.0 490.9 L315.0 490.5 L314.0 490.5 L314.0 489.6 L313.0 489.6 L313.0 489.5 L312.0 489.5 L312.0 489.5 L311.0 489.5 L311.0 489.1 L310.0 489.1 L310.0 488.8 L309.0 488.8 L309.0 487.8 L308.0 487.8 L308.0 488.1 L307.0 488.1 L307.0 487.4 L306.0 487.4 L306.0 487.1 L305.0 487.1 L305.0 486.7 L304.0 486.7 L304.0 486.6 L303.0 486.6 L303.0 486.3 L302.0 486.3 L302.0 485.6 L301.0 485.6 L301.0 485.3 L300.0 485.3 L300.0 484.9 L299.0 484.9 L299.0 484.4 L298.0 484.4 L298.0 483.9 L297.0 483.9 L297.0 483.1 L296.0 483.1 L296.0 482.7 L295.0 482.7 L295.0 482.8 L294.0 482.8 L294.0 482.3 L293.0 482.3 L293.0 481.5 L292.0 481.5 L292.0 481.1 L291.0 481.1 L291.0 480.3 L290.0 480.3 L290.0 480.1 L289.0 480.1 L289.0 479.6 L288.0 479.6 L288.0 479.2 L287.0 479.2 L287.0 479.0 L286.0 479.0 L286.0 478.5 L285.0 478.5 L285.0 478.0 L284.0 478.0 L284.0 477.6 L283.0 477.6 L283.0 477.1 L282.0 477.1 L282.0 476.6 L281.0 476.6 L281.0 475.5 L280.0 475.5 L280.0 475.6 L279.0 475.6 L279.0 474.3 L278.0 474.3 L278.0 474.3 L277.0 474.3 L277.0 473.1 L276.0 473.1 L276.0 472.7 L275.0 472.7 L275.0 472.4 L274.0 472.4 L274.0 471.8 L273.0 471.8 L273.0 471.1 L272.0 471.1 L272.0 469.9 L271.0 469.9 L271.0 469.5 L270.0 469.5 L270.0 468.7 L269.0 468.7 L269.0 468.3 L268.0 468.3 L268.0 467.5 L267.0 467.5 L267.0 466.7 L266.0 466.7 L266.0 465.6 L265.0 465.6 L265.0 464.9 L264.0 464.9 L264.0 464.4 L263.0 464.4 L263.0 463.6 L262.0 463.6 L262.0 462.2 L261.0 462.2 L261.0 462.0 L260.0 462.0 L260.0 460.8 L259.0 460.8 L259.0 460.2 L258.0 460.2 L258.0 459.4 L257.0 459.4 L257.0 458.5 L256.0 458.5 L256.0 457.4 L255.0 457.4 L255.0 456.2 L254.0 456.2 L254.0 455.9 L253.0 455.9 L253.0 454.8 L252.0 454.8 L252.0 454.1 L251.0 454.1 L251.0 453.1 L250.0 453.1 L250.0 452.2 L249.0 452.2 L249.0 451.2 L248.0 451.2 L248.0 450.2 L247.0 450.2 L247.0 448.6 L246.0 448.6 L246.0 448.2 L245.0 448.2 L245.0 447.3 L244.0 447.3 L244.0 445.7 L243.0 445.7 L243.0 444.9 L242.0 444.9 L242.0 443.4 L241.0 443.4 L241.0 441.3 L240.0 441.3 L240.0 440.4 L239.0 440.4 L239.0 438.9 L238.0 438.9 L238.0 436.8 L237.0 436.8 L237.0 435.9 L236.0 435.9 L236.0 434.4 L235.0 434.4 L235.0 432.6 L234.0 432.6 L234.0 431.4 L233.0 431.4 L233.0 429.2 L232.0 429.2 L232.0 428.3 L231.0 428.3 L231.0 426.1 L230.0 426.1 L230.0 425.2 L229.0 425.2 L229.0 423.0 L228.0 423.0 L228.0 421.8 L227.0 421.8 L227.0 420.5 L226.0 420.5Z" fill="#0000ff"/><path d="M235.5 405.1 v9.9M236.5 434.7 v-11.7M237.5 402.1 v9.5M237.5 436.2 v-4.8M240.5 397.6 v13.0M240.5 440.7 v-12.3M241.5 442.2 v-9.3M242.5 443.7 v-12.1M243.5 393.2 v7.1M246.5 448.0 v-10.9M247.5 388.5 v12.9M249.5 386.1 v10.8M249.5 451.0 v-7.2M251.5 383.8 v13.3M252.5 453.9 v-5.6M253.5 454.7 v-6.8M255.5 456.5 v-4.8M256.5 379.7 v11.2M256.5 457.3 v-12.1M257.5 458.2 v-8.5M258.5 378.3 v9.3M259.5 377.6 v10.0M259.5 459.9 v-13.8M261.5 376.1 v10.0M263.5 463.2 v-5.8M265.5 373.4 v8.0M267.5 372.1 v9.0M267.5 466.3 v-12.7M268.5 467.1 v-11.4M269.5 370.7 v13.3M269.5 467.8 v-6.1M271.5 369.4 v4.0M272.5 368.8 v8.3M272.5 469.9 v-11.3M274.5 471.2 v-6.2M275.5 471.8 v-5.2M276.5 366.5 v4.3M277.5 473.1 v-6.9M279.5 364.8 v13.0M282.5 475.9 v-7.6M284.5 362.2 v4.2M285.5 361.7 v13.5M285.5 477.3 v-8.6M286.5 477.8 v-9.0M288.5 478.7 v-9.4M290.5 359.2 v13.4M291.5 480.2 v-9.6M292.5 480.6 v-13.7M294.5 357.2 v5.7M295.5 356.7 v7.7M296.5 356.2 v4.9M296.5 482.5 v-7.9M297.5 483.0 v-10.7M298.5 483.5 v-7.7M300.5 354.2 v10.4M301.5 353.9 v13.7M302.5 485.1 v-10.2M303.5 353.2 v5.7M304.5 352.8 v13.0M304.5 485.8 v-11.8M306.5 486.5 v-11.6M307.5 486.9 v-11.9M308.5 351.4 v11.4M309.5 351.1 v7.5M309.5 487.6 v-12.4M313.5 349.7 v7.5M313.5 489.0 v-11.4M314.5 489.3 v-4.3M316.5 348.6 v12.6M316.5 490.1 v-12.8M317.5 490.4 v-7.4M318.5 347.9 v13.0M320.5 347.2 v7.9M320.5 491.4 v-10.6M321.5 491.7 v-6.8M324.5 346.0 v13.0M324.5 492.5 v-5.4M325.5 345.8 v11.3M326.5 345.4 v12.1M327.5 345.1 v11.8M327.5 493.3 v-9.7M329.5 344.5 v9.6M331.5 343.9 v6.0M331.5 494.4 v-12.8M332.5 343.6 v12.8M333.5 343.3 v9.7M337.5 342.1 v10.5M340.5 496.8 v-9.0M341.5 341.0 v11.0M342.5 497.3 v-9.7M343.5 497.5 v-11.4M344.5 497.7 v-13.1M345.5 340.0 v4.0M346.5 339.7 v13.4M347.5 498.4 v-9.6M348.5 498.7 v-4.4M351.5 499.3 v-5.4M353.5 338.0 v9.1M354.5 337.7 v12.8M354.5 500.0 v-4.3M355.5 500.3 v-9.6M360.5 501.4 v-5.9M362.5 335.8 v11.1M364.5 502.1 v-9.2M365.5 502.3 v-6.4M367.5 334.8 v6.7M367.5 502.7 v-7.0M369.5 334.4 v5.9M369.5 503.0 v-4.4M371.5 334.0 v7.9M373.5 333.6 v11.6M374.5 333.4 v4.2M374.5 503.9 v-11.3M375.5 504.1 v-13.1M376.5 504.3 v-10.2M377.5 332.8 v6.6M377.5 504.5 v-11.9M378.5 504.6 v-7.8M379.5 332.4 v5.6M382.5 505.3 v-12.0M383.5 331.8 v9.4M383.5 505.5 v-9.4M384.5 331.6 v12.2M384.5 505.7 v-11.7M385.5 331.4 v7.4M385.5 505.9 v-5.6M386.5 331.3 v12.5M386.5 506.0 v-7.4M387.5 331.1 v5.2M388.5 331.0 v4.5M389.5 330.8 v13.2M392.5 330.4 v11.6M393.5 507.3 v-5.2M395.5 507.6 v-13.5M396.5 329.7 v7.9M396.5 507.8 v-13.6M397.5 329.6 v12.7M399.5 508.3 v-4.7M400.5 329.1 v7.9M400.5 508.5 v-11.3M401.5 508.6 v-4.7M406.5 328.2 v7.9M407.5 328.0 v13.9M409.5 327.7 v6.1M409.5 509.8 v-11.8M410.5 327.5 v6.1M410.5 510.0 v-7.4M412.5 327.2 v4.9M413.5 510.4 v-6.6M414.5 326.9 v8.8M415.5 326.7 v6.5M415.5 510.7 v-9.8M416.5 326.6 v7.0M416.5 510.9 v-13.3M417.5 511.0 v-9.4M418.5 326.2 v7.7M419.5 326.1 v5.7M421.5 325.8 v11.6M422.5 325.7 v10.5M424.5 325.4 v12.9M424.5 511.8 v-4.1M425.5 325.3 v7.8M425.5 511.9 v-6.8M427.5 325.0 v9.6M428.5 324.9 v8.8M429.5 512.3 v-4.6M430.5 324.6 v6.7M430.5 512.4 v-6.4M431.5 324.5 v4.6M432.5 512.6 v-10.1M434.5 324.1 v4.6M434.5 512.8 v-4.6M436.5 323.9 v5.0M438.5 513.2 v-12.1M439.5 513.3 v-6.8M440.5 513.3 v-11.0M441.5 513.4 v-9.1M444.5 513.7 v-10.5M446.5 322.8 v7.6M446.5 513.8 v-12.9M447.5 322.6 v4.4M449.5 514.1 v-8.6M450.5 514.1 v-12.5M451.5 322.2 v13.8M452.5 322.1 v7.1M452.5 514.3 v-4.7M453.5 322.0 v5.7M453.5 514.4 v-8.8M454.5 321.9 v7.7M456.5 321.8 v13.1M456.5 514.6 v-8.7M457.5 321.6 v11.8M457.5 514.7 v-13.7M458.5 514.8 v-5.8M459.5 321.4 v11.1M460.5 514.9 v-12.4M461.5 321.3 v12.1M463.5 321.1 v6.6M464.5 321.1 v8.2M465.5 515.2 v-7.2M466.5 515.3 v-8.2M467.5 320.8 v12.2M468.5 320.8 v9.7M468.5 515.4 v-5.5M470.5 515.5 v-8.4M472.5 515.6 v-11.5M473.5 320.4 v5.4M473.5 515.7 v-7.8M474.5 320.3 v10.6M475.5 515.8 v-9.0M477.5 320.1 v9.2M478.5 320.0 v9.9M478.5 516.0 v-7.8M480.5 516.1 v-13.6M481.5 319.8 v12.2M482.5 319.8 v10.8M482.5 516.2 v-7.3M483.5 516.2 v-7.4M486.5 319.6 v13.7M487.5 319.5 v13.7M488.5 319.5 v5.3M489.5 319.4 v11.1M489.5 516.5 v-8.9M490.5 319.4 v14.0M491.5 516.6 v-9.1M494.5 516.7 v-9.4M495.5 319.1 v11.6M495.5 516.7 v-12.1M497.5 516.8 v-5.2M498.5 516.8 v-9.5M499.5 318.9 v6.5M500.5 516.9 v-12.5M501.5 516.9 v-4.6M503.5 517.0 v-13.0M504.5 517.0 v-9.6M505.5 318.7 v12.0M506.5 318.6 v6.5M506.5 517.1 v-5.7M508.5 318.6 v4.2M508.5 517.2 v-4.9M509.5 318.5 v8.7M509.5 517.2 v-7.5M510.5 318.5 v11.5M511.5 318.4 v13.3M511.5 517.2 v-6.7M512.5 318.4 v4.5M513.5 318.4 v12.7M513.5 517.3 v-9.0M514.5 318.3 v10.1M516.5 517.4 v-7.0M517.5 318.2 v7.1M517.5 517.4 v-8.7M518.5 318.2 v5.5M522.5 318.0 v4.1M523.5 318.0 v12.4M525.5 517.6 v-4.6M526.5 317.9 v4.2M527.5 317.9 v11.2M528.5 317.8 v5.8M530.5 317.8 v4.6M531.5 317.8 v11.0M533.5 317.7 v9.2M533.5 517.8 v-11.7M534.5 317.7 v6.9M534.5 517.8 v-6.4M535.5 317.6 v10.3M535.5 517.8 v-4.3M536.5 317.6 v11.9M538.5 517.9 v-4.7M540.5 317.5 v4.7M541.5 517.9 v-12.5M542.5 517.9 v-11.1M544.5 518.0 v-4.5M545.5 518.0 v-13.2M546.5 317.4 v12.6M547.5 518.0 v-10.8M548.5 317.3 v10.6M549.5 518.1 v-9.2M550.5 317.3 v11.0M551.5 518.1 v-13.1M553.5 518.2 v-12.2M554.5 518.2 v-6.4M555.5 317.2 v12.1M556.5 317.2 v12.9M557.5 518.2 v-13.4M559.5 317.1 v6.3M559.5 518.3 v-12.1M560.5 518.3 v-6.0M564.5 518.4 v-9.1M567.5 317.0 v11.3M569.5 317.0 v4.0M569.5 518.5 v-7.4M570.5 518.5 v-4.4M571.5 317.0 v14.0M571.5 518.5 v-7.2M573.5 317.0 v10.2M573.5 518.6 v-6.8M574.5 518.6 v-10.8M578.5 316.9 v12.9M578.5 518.7 v-5.5M579.5 316.9 v9.0M579.5 518.7 v-8.4M580.5 316.9 v6.4M581.5 518.7 v-13.0M582.5 316.9 v7.2M590.5 316.8 v4.6M590.5 518.9 v-12.9M591.5 518.9 v-7.7M593.5 316.8 v12.6M594.5 316.8 v8.8M594.5 518.9 v-10.4M596.5 316.8 v7.4M597.5 519.0 v-13.1M599.5 519.0 v-8.5M600.5 316.8 v13.6M600.5 519.0 v-6.1M605.5 316.9 v5.3M606.5 316.9 v6.9M607.5 519.1 v-11.9M608.5 519.1 v-7.7M610.5 316.9 v10.4M610.5 519.2 v-8.2M611.5 316.9 v13.9M613.5 519.2 v-12.7M614.5 519.2 v-12.3M615.5 519.2 v-4.2M617.5 317.0 v9.7M617.5 519.3 v-4.6M620.5 519.3 v-8.6M621.5 317.1 v6.1M621.5 519.3 v-8.4M622.5 317.1 v5.4M623.5 519.4 v-6.2M624.5 519.4 v-11.7M626.5 317.1 v11.8M627.5 317.1 v12.2M627.5 519.4 v-5.7M629.5 519.5 v-8.6M630.5 519.5 v-12.4M631.5 317.2 v9.1M632.5 317.2 v12.7M634.5 317.2 v7.2M634.5 519.6 v-6.2M635.5 519.6 v-11.2M636.5 519.6 v-12.7M637.5 317.2 v8.4M637.5 519.6 v-10.3M638.5 317.3 v5.4M639.5 317.3 v7.0M639.5 519.6 v-12.4M641.5 519.7 v-9.2M643.5 519.7 v-7.5M644.5 317.3 v4.7M644.5 519.7 v-11.3M645.5 317.3 v11.0M648.5 317.4 v11.8M651.5 519.8 v-10.5M652.5 519.8 v-10.9M654.5 317.4 v7.3M655.5 317.4 v12.0M655.5 519.9 v-9.5M656.5 519.9 v-5.4M659.5 317.5 v6.7M660.5 317.5 v9.5M661.5 317.5 v13.4M661.5 519.9 v-6.5M663.5 519.9 v-12.0M664.5 317.5 v12.1M665.5 317.5 v12.9M665.5 520.0 v-9.0M666.5 520.0 v-4.8M667.5 317.5 v11.4M667.5 520.0 v-7.1M668.5 317.5 v8.4M668.5 520.0 v-13.7M669.5 520.0 v-5.4M671.5 520.0 v-12.4M672.5 317.5 v9.0M673.5 317.5 v10.3M674.5 317.5 v5.3M674.5 520.0 v-4.8M675.5 317.6 v4.4M675.5 520.1 v-10.9M676.5 317.6 v8.6M676.5 520.1 v-6.0M677.5 317.6 v13.4M677.5 520.1 v-5.2M678.5 520.1 v-8.1M679.5 317.6 v8.8M679.5 520.1 v-10.7M680.5 520.1 v-12.9M682.5 520.1 v-10.2M685.5 317.6 v8.4M685.5 520.2 v-10.3M687.5 317.6 v4.5M689.5 520.2 v-10.5M692.5 520.2 v-11.1M693.5 317.7 v7.8M694.5 317.7 v8.8M695.5 520.3 v-13.0M696.5 317.7 v13.9M696.5 520.3 v-10.6M697.5 520.3 v-9.8M698.5 317.7 v10.4M699.5 520.3 v-9.7M703.5 317.7 v8.3M703.5 520.3 v-8.1M704.5 317.7 v9.1M705.5 317.7 v9.9M705.5 520.3 v-7.8M707.5 317.7 v12.8M708.5 317.7 v8.5M708.5 520.3 v-4.4M709.5 520.3 v-4.7M710.5 317.7 v11.8M710.5 520.3 v-9.1M713.5 520.3 v-10.4M714.5 317.7 v10.8M715.5 520.3 v-12.4M716.5 520.3 v-10.0M718.5 520.3 v-12.5M719.5 520.3 v-9.1M720.5 317.7 v4.3M720.5 520.4 v-11.9M721.5 520.4 v-10.0M722.5 520.4 v-6.9M726.5 520.4 v-5.6M727.5 520.4 v-12.6M728.5 317.7 v6.6M728.5 520.4 v-5.6M729.5 520.4 v-13.9M730.5 317.7 v7.8M731.5 520.4 v-8.2M732.5 520.4 v-4.6M733.5 317.7 v10.5M734.5 520.4 v-6.6M735.5 520.4 v-7.2M739.5 317.7 v9.0M740.5 317.7 v7.4M740.5 520.4 v-7.8M741.5 317.7 v13.7M742.5 317.7 v7.3M743.5 317.7 v11.7M743.5 520.4 v-8.6M745.5 317.7 v11.8M747.5 520.4 v-13.6M748.5 520.4 v-5.9M749.5 317.7 v6.9M751.5 317.7 v6.1M751.5 520.4 v-9.1M753.5 317.7 v5.1M753.5 520.4 v-5.0M754.5 317.7 v9.8M755.5 317.7 v13.7M755.5 520.4 v-6.8M757.5 520.4 v-11.1M758.5 520.4 v-9.7M760.5 317.8 v6.1M760.5 520.5 v-9.9M762.5 520.5 v-13.9M763.5 317.8 v10.0M764.5 317.8 v12.3M765.5 520.5 v-12.7M766.5 317.8 v4.3M766.5 520.5 v-8.3M767.5 520.5 v-7.7M768.5 317.8 v5.3M769.5 317.8 v9.4M769.5 520.5 v-5.5M770.5 317.8 v12.0M770.5 520.5 v-7.1M771.5 520.5 v-9.0M773.5 520.5 v-5.4M774.5 520.5 v-13.0M775.5 317.8 v11.7M776.5 520.5 v-8.8M777.5 317.8 v13.8M778.5 317.8 v13.9M778.5 520.5 v-4.4M779.5 520.5 v-6.6M781.5 317.8 v4.8M782.5 317.8 v11.8M782.5 520.5 v-10.9M783.5 317.8 v8.3M784.5 317.8 v9.1M788.5 520.5 v-4.4M789.5 317.8 v9.2M790.5 317.8 v8.0M790.5 520.5 v-6.1M791.5 317.8 v8.5M791.5 520.5 v-8.7M793.5 317.8 v8.1M794.5 317.8 v7.6M794.5 520.5 v-10.6M795.5 317.8 v4.4M795.5 520.5 v-12.4M796.5 317.8 v4.8M796.5 520.5 v-5.9M797.5 317.8 v10.3M797.5 520.5 v-10.8M798.5 317.8 v5.0M799.5 520.6 v-4.6M801.5 317.8 v4.7M801.5 520.6 v-10.6M802.5 317.8 v5.8M804.5 520.6 v-12.0M805.5 317.8 v6.2M806.5 317.8 v5.7M807.5 317.8 v12.3M807.5 520.6 v-8.4M808.5 317.8 v5.3M809.5 317.8 v6.4M810.5 520.6 v-5.2M811.5 520.6 v-6.2M812.5 317.8 v12.7M812.5 520.6 v-7.1M815.5 520.6 v-13.5M817.5 520.6 v-6.0" stroke="rgba(255,255,255,0.11)" stroke-width="1" fill="none"/>
</g>
<rect x="411.4" y="97.8" width="1.3" height="3" fill="rgba(255,255,255,0.3)"/>
<rect x="424.5" y="103.8" width="1.3" height="3" fill="rgba(255,255,255,0.3)"/>
<rect x="437.6" y="112.3" width="1.3" height="3" fill="rgba(255,255,255,0.3)"/>
<rect x="450.1" y="123.9" width="1.3" height="3" fill="rgba(255,255,255,0.3)"/>
<rect x="463.3" y="140.0" width="1.3" height="3" fill="rgba(255,255,255,0.3)"/>
<rect x="476.4" y="159.1" width="1.3" height="3" fill="rgba(255,255,255,0.3)"/>
<rect x="489.4" y="181.5" width="1.3" height="3" fill="rgba(255,255,255,0.3)"/>
<rect x="502.9" y="204.5" width="1.3" height="3" fill="rgba(255,255,255,0.3)"/>
<rect x="516.4" y="225.1" width="1.3" height="3" fill="rgba(255,255,255,0.3)"/>
<rect x="528.6" y="243.2" width="1.3" height="3" fill="rgba(255,255,255,0.3)"/>
<rect x="752.0" y="81.3" width="1.3" height="3" fill="rgba(255,255,255,0.3)"/>
<rect x="739.3" y="91.8" width="1.3" height="3" fill="rgba(255,255,255,0.3)"/>
<rect x="726.2" y="106.8" width="1.3" height="3" fill="rgba(255,255,255,0.3)"/>
<rect x="713.2" y="125.3" width="1.3" height="3" fill="rgba(255,255,255,0.3)"/>
<rect x="700.1" y="147.0" width="1.3" height="3" fill="rgba(255,255,255,0.3)"/>
<rect x="687.0" y="173.5" width="1.3" height="3" fill="rgba(255,255,255,0.3)"/>
<rect x="674.6" y="200.9" width="1.3" height="3" fill="rgba(255,255,255,0.3)"/>
<rect x="661.1" y="224.2" width="1.3" height="3" fill="rgba(255,255,255,0.3)"/>
<rect x="647.8" y="242.7" width="1.3" height="3" fill="rgba(255,255,255,0.3)"/>
<rect x="292.2" y="134.9" width="1.3" height="3" fill="rgba(255,255,255,0.3)"/>
<rect x="278.7" y="146.5" width="1.3" height="3" fill="rgba(255,255,255,0.3)"/>
<rect x="265.7" y="160.4" width="1.3" height="3" fill="rgba(255,255,255,0.3)"/>
<rect x="305.2" y="125.0" width="1.3" height="3" fill="rgba(255,255,255,0.3)"/>
<rect x="384.2" y="341.7" width="1.3" height="3" fill="rgba(255,255,255,0.3)"/>
<rect x="370.6" y="352.3" width="1.3" height="3" fill="rgba(255,255,255,0.3)"/>
<rect x="357.5" y="364.2" width="1.3" height="3" fill="rgba(255,255,255,0.3)"/>
<rect x="344.4" y="377.4" width="1.3" height="3" fill="rgba(255,255,255,0.3)"/>
<rect x="331.4" y="389.7" width="1.3" height="3" fill="rgba(255,255,255,0.3)"/>
<rect x="318.3" y="402.0" width="1.3" height="3" fill="rgba(255,255,255,0.3)"/>
<rect x="305.2" y="414.6" width="1.3" height="3" fill="rgba(255,255,255,0.3)"/>
<rect x="292.2" y="427.1" width="1.3" height="3" fill="rgba(255,255,255,0.3)"/>
<rect x="279.1" y="436.1" width="1.3" height="3" fill="rgba(255,255,255,0.3)"/>
<rect x="266.0" y="443.7" width="1.3" height="3" fill="rgba(255,255,255,0.3)"/>
<rect x="476.8" y="341.2" width="1.3" height="3" fill="rgba(255,255,255,0.3)"/>
<rect x="490.3" y="353.2" width="1.3" height="3" fill="rgba(255,255,255,0.3)"/>
<rect x="503.3" y="367.9" width="1.3" height="3" fill="rgba(255,255,255,0.3)"/>
<rect x="516.4" y="384.6" width="1.3" height="3" fill="rgba(255,255,255,0.3)"/>
<rect x="529.0" y="402.7" width="1.3" height="3" fill="rgba(255,255,255,0.3)"/>
<rect x="542.1" y="421.5" width="1.3" height="3" fill="rgba(255,255,255,0.3)"/>
<rect x="555.2" y="441.6" width="1.3" height="3" fill="rgba(255,255,255,0.3)"/>
<rect x="568.2" y="459.3" width="1.3" height="3" fill="rgba(255,255,255,0.3)"/>
<rect x="581.3" y="476.8" width="1.3" height="3" fill="rgba(255,255,255,0.3)"/>
<rect x="594.4" y="490.5" width="1.3" height="3" fill="rgba(255,255,255,0.3)"/>
<rect x="805.4" y="342.5" width="1.3" height="3" fill="rgba(255,255,255,0.3)"/>
<rect x="791.9" y="358.5" width="1.3" height="3" fill="rgba(255,255,255,0.3)"/>
<rect x="779.4" y="376.5" width="1.3" height="3" fill="rgba(255,255,255,0.3)"/>
<rect x="765.9" y="395.0" width="1.3" height="3" fill="rgba(255,255,255,0.3)"/>
<rect x="753.4" y="415.0" width="1.3" height="3" fill="rgba(255,255,255,0.3)"/>
<rect x="740.4" y="435.0" width="1.3" height="3" fill="rgba(255,255,255,0.3)"/>
<rect x="726.9" y="455.0" width="1.3" height="3" fill="rgba(255,255,255,0.3)"/>
<rect x="713.4" y="472.5" width="1.3" height="3" fill="rgba(255,255,255,0.3)"/>
<rect x="700.4" y="487.5" width="1.3" height="3" fill="rgba(255,255,255,0.3)"/>
<g fill="none" stroke="#4a4a4a">
<path d="M96.0 9.5 V548.5 H885.5 V9.5" stroke-width="1.8"/>
<path d="M96.0 10.0 H885.5" stroke-width="1" stroke="#8a8a8a"/>
<path d="M103.5 10 H878" stroke-width="2" stroke="#303030"/>
<path d="M161.4 548.5 v-7.5M227.2 548.5 v-7.5M293.0 548.5 v-7.5M358.8 548.5 v-7.5M424.6 548.5 v-7.5M490.4 548.5 v-7.5M556.2 548.5 v-7.5M622.0 548.5 v-7.5M687.8 548.5 v-7.5M753.6 548.5 v-7.5M819.4 548.5 v-7.5M96.0 144.6 h8M96.0 279.2 h8M96.0 413.9 h8M885.5 69.8 h-8M885.5 129.7 h-8M885.5 189.5 h-8M885.5 249.3 h-8M885.5 309.2 h-8M885.5 369.0 h-8M885.5 428.8 h-8M885.5 488.7 h-8" stroke-width="1.2" stroke="#5c5c5c"/>
<path d="M128.5 548.5 v-3.5M194.3 548.5 v-3.5M260.1 548.5 v-3.5M325.9 548.5 v-3.5M391.7 548.5 v-3.5M457.5 548.5 v-3.5M523.3 548.5 v-3.5M589.1 548.5 v-3.5M654.9 548.5 v-3.5M720.7 548.5 v-3.5M786.5 548.5 v-3.5M852.3 548.5 v-3.5M96.0 77.3 h4M96.0 211.9 h4M96.0 346.6 h4M96.0 481.2 h4M885.5 39.9 h-4M885.5 99.8 h-4M885.5 159.6 h-4M885.5 219.4 h-4M885.5 279.2 h-4M885.5 339.1 h-4M885.5 398.9 h-4M885.5 458.8 h-4M885.5 518.6 h-4" stroke-width="1" stroke="#d2d2d2"/>
</g>
<g font-family="'Liberation Serif', 'Times New Roman', serif" font-size="18" fill="#1c1c1c" stroke="#1c1c1c" stroke-width="0.3">
<text x="165.4" y="578" text-anchor="middle">-0.1</text>
<text x="231.2" y="578" text-anchor="middle">0.0</text>
<text x="297.0" y="578" text-anchor="middle">0.1</text>
<text x="362.8" y="578" text-anchor="middle">0.2</text>
<text x="428.6" y="578" text-anchor="middle">0.3</text>
<text x="494.4" y="578" text-anchor="middle">0.4</text>
<text x="560.2" y="578" text-anchor="middle">0.5</text>
<text x="626.0" y="578" text-anchor="middle">0.6</text>
<text x="691.8" y="578" text-anchor="middle">0.7</text>
<text x="757.6" y="578" text-anchor="middle">0.8</text>
<text x="823.4" y="578" text-anchor="middle">0.9</text>
<text x="86.8" y="20.3" text-anchor="end">5000</text>
<text x="86.8" y="154.9" text-anchor="end">3300</text>
<text x="86.8" y="289.6" text-anchor="end">1600</text>
<text x="86.8" y="424.2" text-anchor="end">-100</text>
<text x="86.8" y="558.8" text-anchor="end">-1800</text>
<text x="902.2" y="20.3">0.7</text>
<text x="902.2" y="80.1">0.4</text>
<text x="902.2" y="140.0">0.1</text>
<text x="902.2" y="199.8">-0.2</text>
<text x="902.2" y="259.6">-0.5</text>
<text x="902.2" y="319.5">-0.8</text>
<text x="902.2" y="379.3">-1.1</text>
<text x="902.2" y="439.1">-1.4</text>
<text x="902.2" y="499.0">-1.7</text>
<text x="902.2" y="558.8">-2.0</text>
</g>
<g font-family="'Liberation Serif', 'Times New Roman', serif" font-size="32.9" stroke-width="0.4">
<text transform="translate(453,52.2) scale(1,1.03)" fill="#7d0a0a" stroke="#7d0a0a">FBG displacement sensor</text>
<text transform="translate(627.2,306.6) scale(1,1.03)" font-size="32.6" fill="#0a0ac8" stroke="#0a0ac8">LDV</text>
<text transform="translate(490.6,638) scale(1,1.03)" fill="#111" stroke="#111" text-anchor="middle">Time (s)</text>
<text transform="translate(34.6,282.2) rotate(-90) scale(1.02,1)" font-size="33" fill="#0a0ac8" stroke="#0a0ac8" text-anchor="middle">LDV (nm)</text>
<text transform="translate(965.8,280.6) rotate(90)" font-size="32.5" fill="#7d0a0a" stroke="#7d0a0a" text-anchor="middle">FBG (V)</text>
</g>
</svg>
</body></html>
